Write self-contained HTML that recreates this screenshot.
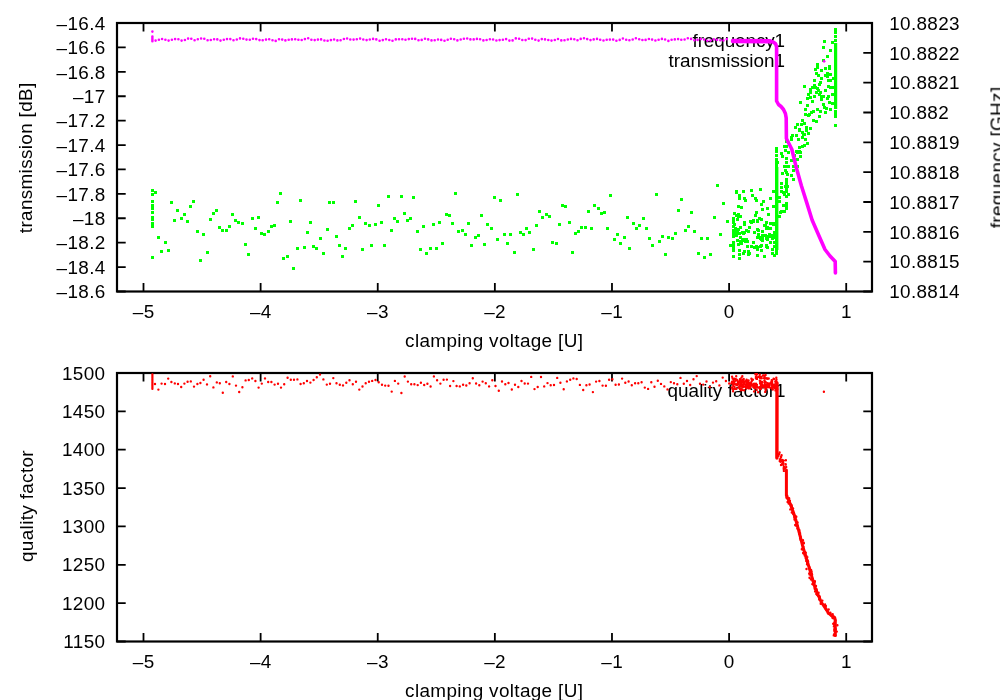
<!DOCTYPE html>
<html><head><meta charset="utf-8"><title>plot</title>
<style>
html,body{margin:0;padding:0;background:#fff;overflow:hidden}
svg{display:block}
text{font-family:"Liberation Sans",sans-serif;font-size:18.9px;letter-spacing:0.35px;fill:#000}
</style></head>
<body>
<svg width="1000" height="700" viewBox="0 0 1000 700">
<rect width="1000" height="700" fill="#fff"/>
<rect x="117" y="23" width="755" height="268.5" fill="none" stroke="#000" stroke-width="2.2"/><path d="M143.50 291.50v-8.6M143.50 23.00v8.6M260.62 291.50v-8.6M260.62 23.00v8.6M377.74 291.50v-8.6M377.74 23.00v8.6M494.86 291.50v-8.6M494.86 23.00v8.6M611.98 291.50v-8.6M611.98 23.00v8.6M729.10 291.50v-8.6M729.10 23.00v8.6M846.22 291.50v-8.6M846.22 23.00v8.6M117.00 23.00h8.7M117.00 47.41h8.7M117.00 71.82h8.7M117.00 96.23h8.7M117.00 120.64h8.7M117.00 145.05h8.7M117.00 169.45h8.7M117.00 193.86h8.7M117.00 218.27h8.7M117.00 242.68h8.7M117.00 267.09h8.7M117.00 291.50h8.7M872.00 23.00h-8.7M872.00 52.83h-8.7M872.00 82.67h-8.7M872.00 112.50h-8.7M872.00 142.33h-8.7M872.00 172.17h-8.7M872.00 202.00h-8.7M872.00 231.83h-8.7M872.00 261.67h-8.7M872.00 291.50h-8.7" stroke="#000" stroke-width="1.8" fill="none"/>
<rect x="117" y="373" width="755" height="268.5" fill="none" stroke="#000" stroke-width="2.2"/><path d="M143.50 641.50v-8.6M143.50 373.00v8.6M260.62 641.50v-8.6M260.62 373.00v8.6M377.74 641.50v-8.6M377.74 373.00v8.6M494.86 641.50v-8.6M494.86 373.00v8.6M611.98 641.50v-8.6M611.98 373.00v8.6M729.10 641.50v-8.6M729.10 373.00v8.6M846.22 641.50v-8.6M846.22 373.00v8.6M117.00 373.00h8.7M117.00 411.36h8.7M117.00 449.71h8.7M117.00 488.07h8.7M117.00 526.43h8.7M117.00 564.79h8.7M117.00 603.14h8.7M117.00 641.50h8.7M872.00 373.00h-8.7M872.00 411.36h-8.7M872.00 449.71h-8.7M872.00 488.07h-8.7M872.00 526.43h-8.7M872.00 564.79h-8.7M872.00 603.14h-8.7M872.00 641.50h-8.7" stroke="#000" stroke-width="1.8" fill="none"/>
<g style="filter:grayscale(1)">
<text x="105.6" y="29.7" text-anchor="end">–16.4</text><text x="105.6" y="54.1091" text-anchor="end">–16.6</text><text x="105.6" y="78.5182" text-anchor="end">–16.8</text><text x="105.6" y="102.927" text-anchor="end">–17</text><text x="105.6" y="127.336" text-anchor="end">–17.2</text><text x="105.6" y="151.745" text-anchor="end">–17.4</text><text x="105.6" y="176.155" text-anchor="end">–17.6</text><text x="105.6" y="200.564" text-anchor="end">–17.8</text><text x="105.6" y="224.973" text-anchor="end">–18</text><text x="105.6" y="249.382" text-anchor="end">–18.2</text><text x="105.6" y="273.791" text-anchor="end">–18.4</text><text x="105.6" y="298.2" text-anchor="end">–18.6</text><text x="889.2" y="29.7" text-anchor="start">10.8823</text><text x="889.2" y="59.5333" text-anchor="start">10.8822</text><text x="889.2" y="89.3667" text-anchor="start">10.8821</text><text x="889.2" y="119.2" text-anchor="start">10.882</text><text x="889.2" y="149.033" text-anchor="start">10.8819</text><text x="889.2" y="178.867" text-anchor="start">10.8818</text><text x="889.2" y="208.7" text-anchor="start">10.8817</text><text x="889.2" y="238.533" text-anchor="start">10.8816</text><text x="889.2" y="268.367" text-anchor="start">10.8815</text><text x="889.2" y="298.2" text-anchor="start">10.8814</text>
<text x="143.7" y="318.2" text-anchor="middle">–5</text><text x="260.82" y="318.2" text-anchor="middle">–4</text><text x="377.94" y="318.2" text-anchor="middle">–3</text><text x="495.06" y="318.2" text-anchor="middle">–2</text><text x="612.18" y="318.2" text-anchor="middle">–1</text><text x="729.3" y="318.2" text-anchor="middle">0</text><text x="846.42" y="318.2" text-anchor="middle">1</text><text x="494.2" y="346.7" text-anchor="middle">clamping voltage [U]</text><text x="143.7" y="668.2" text-anchor="middle">–5</text><text x="260.82" y="668.2" text-anchor="middle">–4</text><text x="377.94" y="668.2" text-anchor="middle">–3</text><text x="495.06" y="668.2" text-anchor="middle">–2</text><text x="612.18" y="668.2" text-anchor="middle">–1</text><text x="729.3" y="668.2" text-anchor="middle">0</text><text x="846.42" y="668.2" text-anchor="middle">1</text><text x="494.2" y="696.7" text-anchor="middle">clamping voltage [U]</text>
<text x="105.4" y="379.7" text-anchor="end">1500</text><text x="105.4" y="418.057" text-anchor="end">1450</text><text x="105.4" y="456.414" text-anchor="end">1400</text><text x="105.4" y="494.771" text-anchor="end">1350</text><text x="105.4" y="533.129" text-anchor="end">1300</text><text x="105.4" y="571.486" text-anchor="end">1250</text><text x="105.4" y="609.843" text-anchor="end">1200</text><text x="105.4" y="648.2" text-anchor="end">1150</text>
<text x="32.4" y="157.8" text-anchor="middle" transform="rotate(-90 32.4 157.8)">transmission [dB]</text><text x="1003.9" y="157.4" text-anchor="middle" transform="rotate(-90 1003.9 157.4)">frequency [GHz]</text><text x="32.8" y="506" text-anchor="middle" transform="rotate(-90 32.8 506)">quality factor</text><text x="785" y="47.4" text-anchor="end" style="letter-spacing:-0.1px">frequency1</text><text x="785" y="67.4" text-anchor="end" style="letter-spacing:0px">transmission1</text><text x="785.6" y="396.9" text-anchor="end" style="letter-spacing:0.03px">quality factor1</text>
</g>
<path d="M151 189h3v3h-3zM151 193h3v3h-3zM151 200h3v3h-3zM151 204h3v3h-3zM151 206h3v3h-3zM151 207h3v3h-3zM151 211h3v3h-3zM151 216h3v3h-3zM151 218h3v3h-3zM151 222h3v3h-3zM151 224h3v3h-3zM151 225h3v3h-3zM151 256h3v3h-3zM154 191h3v3h-3zM157 236h3v3h-3zM160 250h3v3h-3zM164 241h3v3h-3zM167 249h3v3h-3zM170 201h3v3h-3zM173 219h3v3h-3zM176 209h3v3h-3zM180 217h3v3h-3zM183 213h3v3h-3zM186 220h3v3h-3zM189 205h3v3h-3zM192 200h3v3h-3zM196 230h3v3h-3zM199 259h3v3h-3zM202 233h3v3h-3zM206 251h3v3h-3zM209 218h3v3h-3zM212 212h3v3h-3zM215 209h3v3h-3zM218 226h3v3h-3zM221 229h3v3h-3zM225 229h3v3h-3zM228 225h3v3h-3zM231 213h3v3h-3zM234 219h3v3h-3zM237 221h3v3h-3zM241 222h3v3h-3zM244 243h3v3h-3zM247 253h3v3h-3zM251 217h3v3h-3zM254 227h3v3h-3zM257 216h3v3h-3zM260 232h3v3h-3zM263 233h3v3h-3zM267 230h3v3h-3zM270 225h3v3h-3zM273 224h3v3h-3zM276 201h3v3h-3zM279 192h3v3h-3zM282 257h3v3h-3zM286 255h3v3h-3zM289 220h3v3h-3zM292 267h3v3h-3zM296 247h3v3h-3zM299 199h3v3h-3zM303 246h3v3h-3zM306 231h3v3h-3zM309 221h3v3h-3zM312 245h3v3h-3zM315 247h3v3h-3zM319 237h3v3h-3zM322 252h3v3h-3zM326 228h3v3h-3zM328 201h3v3h-3zM332 201h3v3h-3zM335 235h3v3h-3zM338 244h3v3h-3zM341 255h3v3h-3zM344 247h3v3h-3zM348 227h3v3h-3zM351 224h3v3h-3zM354 200h3v3h-3zM358 216h3v3h-3zM361 248h3v3h-3zM364 222h3v3h-3zM368 224h3v3h-3zM370 244h3v3h-3zM374 223h3v3h-3zM377 204h3v3h-3zM380 221h3v3h-3zM383 244h3v3h-3zM387 195h3v3h-3zM390 229h3v3h-3zM393 217h3v3h-3zM396 220h3v3h-3zM400 195h3v3h-3zM403 212h3v3h-3zM406 219h3v3h-3zM409 217h3v3h-3zM412 196h3v3h-3zM416 230h3v3h-3zM419 248h3v3h-3zM422 225h3v3h-3zM425 252h3v3h-3zM429 247h3v3h-3zM432 223h3v3h-3zM435 247h3v3h-3zM438 221h3v3h-3zM441 242h3v3h-3zM445 213h3v3h-3zM448 214h3v3h-3zM451 222h3v3h-3zM454 192h3v3h-3zM457 230h3v3h-3zM461 229h3v3h-3zM464 233h3v3h-3zM467 222h3v3h-3zM470 244h3v3h-3zM474 236h3v3h-3zM477 234h3v3h-3zM480 214h3v3h-3zM483 243h3v3h-3zM486 223h3v3h-3zM490 227h3v3h-3zM493 196h3v3h-3zM496 238h3v3h-3zM499 199h3v3h-3zM503 233h3v3h-3zM506 242h3v3h-3zM509 233h3v3h-3zM513 251h3v3h-3zM516 193h3v3h-3zM519 231h3v3h-3zM522 233h3v3h-3zM525 227h3v3h-3zM528 231h3v3h-3zM532 248h3v3h-3zM535 224h3v3h-3zM538 210h3v3h-3zM541 216h3v3h-3zM545 213h3v3h-3zM548 215h3v3h-3zM551 241h3v3h-3zM555 242h3v3h-3zM558 223h3v3h-3zM561 204h3v3h-3zM564 205h3v3h-3zM568 221h3v3h-3zM571 251h3v3h-3zM574 232h3v3h-3zM577 230h3v3h-3zM580 226h3v3h-3zM584 226h3v3h-3zM587 210h3v3h-3zM590 227h3v3h-3zM593 204h3v3h-3zM597 207h3v3h-3zM600 212h3v3h-3zM603 211h3v3h-3zM606 227h3v3h-3zM609 194h3v3h-3zM613 238h3v3h-3zM616 233h3v3h-3zM619 242h3v3h-3zM623 236h3v3h-3zM626 216h3v3h-3zM628 247h3v3h-3zM632 222h3v3h-3zM635 227h3v3h-3zM638 224h3v3h-3zM642 217h3v3h-3zM645 227h3v3h-3zM648 237h3v3h-3zM651 244h3v3h-3zM655 193h3v3h-3zM658 240h3v3h-3zM661 235h3v3h-3zM664 253h3v3h-3zM667 236h3v3h-3zM671 237h3v3h-3zM674 232h3v3h-3zM677 209h3v3h-3zM680 198h3v3h-3zM684 229h3v3h-3zM687 225h3v3h-3zM690 211h3v3h-3zM693 230h3v3h-3zM697 252h3v3h-3zM700 237h3v3h-3zM703 256h3v3h-3zM706 237h3v3h-3zM709 253h3v3h-3zM713 216h3v3h-3zM716 184h3v3h-3zM719 233h3v3h-3zM722 202h3v3h-3zM726 220h3v3h-3zM729 244h3v3h-3zM746 240h3v3h-3zM736 231h3v3h-3zM735 214h3v3h-3zM750 189h3v3h-3zM750 221h3v3h-3zM742 252h3v3h-3zM756 254h3v3h-3zM734 229h3v3h-3zM738 194h3v3h-3zM766 238h3v3h-3zM759 237h3v3h-3zM735 191h3v3h-3zM761 230h3v3h-3zM757 229h3v3h-3zM765 227h3v3h-3zM756 248h3v3h-3zM763 255h3v3h-3zM737 243h3v3h-3zM739 215h3v3h-3zM760 238h3v3h-3zM769 241h3v3h-3zM757 234h3v3h-3zM767 235h3v3h-3zM760 203h3v3h-3zM759 245h3v3h-3zM744 240h3v3h-3zM733 223h3v3h-3zM737 205h3v3h-3zM738 232h3v3h-3zM769 197h3v3h-3zM755 245h3v3h-3zM768 233h3v3h-3zM747 253h3v3h-3zM739 226h3v3h-3zM742 238h3v3h-3zM743 197h3v3h-3zM748 252h3v3h-3zM761 239h3v3h-3zM761 208h3v3h-3zM765 245h3v3h-3zM749 220h3v3h-3zM759 188h3v3h-3zM741 231h3v3h-3zM735 190h3v3h-3zM737 213h3v3h-3zM769 222h3v3h-3zM743 231h3v3h-3zM738 257h3v3h-3zM752 219h3v3h-3zM737 228h3v3h-3zM767 213h3v3h-3zM772 222h3v3h-3zM755 199h3v3h-3zM773 241h3v3h-3zM743 223h3v3h-3zM765 244h3v3h-3zM746 245h3v3h-3zM773 245h3v3h-3zM766 226h3v3h-3zM754 214h3v3h-3zM734 227h3v3h-3zM761 234h3v3h-3zM771 252h3v3h-3zM748 226h3v3h-3zM741 239h3v3h-3zM770 235h3v3h-3zM760 218h3v3h-3zM760 244h3v3h-3zM764 224h3v3h-3zM765 245h3v3h-3zM773 233h3v3h-3zM772 223h3v3h-3zM738 249h3v3h-3zM766 246h3v3h-3zM773 231h3v3h-3zM755 211h3v3h-3zM773 236h3v3h-3zM771 248h3v3h-3zM767 227h3v3h-3zM745 238h3v3h-3zM743 221h3v3h-3zM770 234h3v3h-3zM757 233h3v3h-3zM771 237h3v3h-3zM754 197h3v3h-3zM740 206h3v3h-3zM740 242h3v3h-3zM756 236h3v3h-3zM756 220h3v3h-3zM756 228h3v3h-3zM765 237h3v3h-3zM764 234h3v3h-3zM758 236h3v3h-3zM761 237h3v3h-3zM752 241h3v3h-3zM769 227h3v3h-3zM756 246h3v3h-3zM738 197h3v3h-3zM736 218h3v3h-3zM760 249h3v3h-3zM739 240h3v3h-3zM738 253h3v3h-3zM742 232h3v3h-3zM753 246h3v3h-3zM739 236h3v3h-3zM747 230h3v3h-3zM762 200h3v3h-3zM751 194h3v3h-3zM758 217h3v3h-3zM773 254h3v3h-3zM737 215h3v3h-3zM765 221h3v3h-3zM750 245h3v3h-3zM743 250h3v3h-3zM756 219h3v3h-3zM735 233h3v3h-3zM736 239h3v3h-3zM766 207h3v3h-3zM735 234h3v3h-3zM747 250h3v3h-3zM744 199h3v3h-3zM742 190h3v3h-3zM735 230h3v3h-3zM745 229h3v3h-3zM753 231h3v3h-3zM733 212h3v3h-3zM763 224h3v3h-3zM752 220h3v3h-3zM732 248h3v3h-3zM732 232h3v3h-3zM732 235h3v3h-3zM732 249h3v3h-3zM732 231h3v3h-3zM732 235h3v3h-3zM732 243h3v3h-3zM732 255h3v3h-3zM732 229h3v3h-3zM732 249h3v3h-3zM732 243h3v3h-3zM732 241h3v3h-3zM732 231h3v3h-3zM732 229h3v3h-3zM732 217h3v3h-3zM732 220h3v3h-3zM732 217h3v3h-3zM732 245h3v3h-3zM732 225h3v3h-3zM732 221h3v3h-3zM732 218h3v3h-3zM732 249h3v3h-3zM775 147h3v3h-3zM775 150h3v3h-3zM775 154h3v3h-3zM775 158h3v3h-3zM775 161h3v3h-3zM775 164h3v3h-3zM775 250h3v3h-3zM775 252h3v3h-3zM822 46h3v3h-3zM829 49h3v3h-3zM831 41h3v3h-3zM826 55h3v3h-3zM822 59h3v3h-3zM816 63h3v3h-3zM816 66h3v3h-3zM814 68h3v3h-3zM820 69h3v3h-3zM824 67h3v3h-3zM828 65h3v3h-3zM828 67h3v3h-3zM815 72h3v3h-3zM817 74h3v3h-3zM826 72h3v3h-3zM829 73h3v3h-3zM824 74h3v3h-3zM826 75h3v3h-3zM820 77h3v3h-3zM832 77h3v3h-3zM813 79h3v3h-3zM819 81h3v3h-3zM818 83h3v3h-3zM827 79h3v3h-3zM829 79h3v3h-3zM803 85h3v3h-3zM813 84h3v3h-3zM811 86h3v3h-3zM814 86h3v3h-3zM816 87h3v3h-3zM827 85h3v3h-3zM829 86h3v3h-3zM831 86h3v3h-3zM809 88h3v3h-3zM817 89h3v3h-3zM824 89h3v3h-3zM809 91h3v3h-3zM815 91h3v3h-3zM819 91h3v3h-3zM818 93h3v3h-3zM807 93h3v3h-3zM831 93h3v3h-3zM813 95h3v3h-3zM820 95h3v3h-3zM822 95h3v3h-3zM827 95h3v3h-3zM809 96h3v3h-3zM806 97h3v3h-3zM826 97h3v3h-3zM820 98h3v3h-3zM811 100h3v3h-3zM799 101h3v3h-3zM828 101h3v3h-3zM831 102h3v3h-3zM822 103h3v3h-3zM806 104h3v3h-3zM823 106h3v3h-3zM825 107h3v3h-3zM816 108h3v3h-3zM829 108h3v3h-3zM804 108h3v3h-3zM812 110h3v3h-3zM819 110h3v3h-3zM824 111h3v3h-3zM810 111h3v3h-3zM808 113h3v3h-3zM804 113h3v3h-3zM807 114h3v3h-3zM818 115h3v3h-3zM801 119h3v3h-3zM812 119h3v3h-3zM815 120h3v3h-3zM803 122h3v3h-3zM800 123h3v3h-3zM796 123h3v3h-3zM805 126h3v3h-3zM809 127h3v3h-3zM798 128h3v3h-3zM805 129h3v3h-3zM794 126h3v3h-3zM801 131h3v3h-3zM807 132h3v3h-3zM802 133h3v3h-3zM798 129h3v3h-3zM805 129h3v3h-3zM801 131h3v3h-3zM807 132h3v3h-3zM803 133h3v3h-3zM795 134h3v3h-3zM791 134h3v3h-3zM790 136h3v3h-3zM801 136h3v3h-3zM804 138h3v3h-3zM797 138h3v3h-3zM790 138h3v3h-3zM785 140h3v3h-3zM806 142h3v3h-3zM803 144h3v3h-3zM801 145h3v3h-3zM798 146h3v3h-3zM783 145h3v3h-3zM785 145h3v3h-3zM784 149h3v3h-3zM795 150h3v3h-3zM798 150h3v3h-3zM787 151h3v3h-3zM796 151h3v3h-3zM799 151h3v3h-3zM780 152h3v3h-3zM781 155h3v3h-3zM799 155h3v3h-3zM785 157h3v3h-3zM793 154h3v3h-3zM796 158h3v3h-3zM790 159h3v3h-3zM776 161h3v3h-3zM785 161h3v3h-3zM783 165h3v3h-3zM785 165h3v3h-3zM787 165h3v3h-3zM792 165h3v3h-3zM796 165h3v3h-3zM784 169h3v3h-3zM792 169h3v3h-3zM785 171h3v3h-3zM781 172h3v3h-3zM786 173h3v3h-3zM790 174h3v3h-3zM792 178h3v3h-3zM785 178h3v3h-3zM785 182h3v3h-3zM780 182h3v3h-3zM785 179h3v3h-3zM792 178h3v3h-3zM780 182h3v3h-3zM785 182h3v3h-3zM786 185h3v3h-3zM780 186h3v3h-3zM784 185h3v3h-3zM785 187h3v3h-3zM780 190h3v3h-3zM782 191h3v3h-3zM785 190h3v3h-3zM787 193h3v3h-3zM783 193h3v3h-3zM785 195h3v3h-3zM778 196h3v3h-3zM778 200h3v3h-3zM785 202h3v3h-3zM782 204h3v3h-3zM785 204h3v3h-3zM785 207h3v3h-3zM780 210h3v3h-3zM783 210h3v3h-3zM779 211h3v3h-3zM778 215h3v3h-3zM772 190h3v3h-3zM769 197h3v3h-3zM772 205h3v3h-3zM834 28h3v3h-3zM834 31h3v3h-3zM834 35h3v3h-3zM834 39h3v3h-3zM834 110h3v3h-3zM834 112h3v3h-3zM834 115h3v3h-3zM834 124h3v3h-3zM823 40h3v3h-3z" fill="#00ff00"/>
<rect x="775" y="167" width="3.4" height="83" fill="#00ff00"/>
<rect x="834" y="43" width="3.2" height="66" fill="#00ff00"/>
<path d="M151.1 39.9a1.3 1.3 0 1 0 2.6 0a1.3 1.3 0 1 0 -2.6 0zM154.3 40.6a1.3 1.3 0 1 0 2.6 0a1.3 1.3 0 1 0 -2.6 0zM157.6 39.7a1.3 1.3 0 1 0 2.6 0a1.3 1.3 0 1 0 -2.6 0zM160.8 39.0a1.3 1.3 0 1 0 2.6 0a1.3 1.3 0 1 0 -2.6 0zM164.1 39.8a1.3 1.3 0 1 0 2.6 0a1.3 1.3 0 1 0 -2.6 0zM167.3 40.6a1.3 1.3 0 1 0 2.6 0a1.3 1.3 0 1 0 -2.6 0zM170.6 39.7a1.3 1.3 0 1 0 2.6 0a1.3 1.3 0 1 0 -2.6 0zM173.8 39.1a1.3 1.3 0 1 0 2.6 0a1.3 1.3 0 1 0 -2.6 0zM177.1 39.3a1.3 1.3 0 1 0 2.6 0a1.3 1.3 0 1 0 -2.6 0zM180.3 40.6a1.3 1.3 0 1 0 2.6 0a1.3 1.3 0 1 0 -2.6 0zM183.6 40.0a1.3 1.3 0 1 0 2.6 0a1.3 1.3 0 1 0 -2.6 0zM186.8 38.6a1.3 1.3 0 1 0 2.6 0a1.3 1.3 0 1 0 -2.6 0zM190.0 38.8a1.3 1.3 0 1 0 2.6 0a1.3 1.3 0 1 0 -2.6 0zM193.3 40.3a1.3 1.3 0 1 0 2.6 0a1.3 1.3 0 1 0 -2.6 0zM196.5 39.3a1.3 1.3 0 1 0 2.6 0a1.3 1.3 0 1 0 -2.6 0zM199.8 38.5a1.3 1.3 0 1 0 2.6 0a1.3 1.3 0 1 0 -2.6 0zM203.0 38.8a1.3 1.3 0 1 0 2.6 0a1.3 1.3 0 1 0 -2.6 0zM206.3 40.2a1.3 1.3 0 1 0 2.6 0a1.3 1.3 0 1 0 -2.6 0zM209.5 40.0a1.3 1.3 0 1 0 2.6 0a1.3 1.3 0 1 0 -2.6 0zM212.8 39.2a1.3 1.3 0 1 0 2.6 0a1.3 1.3 0 1 0 -2.6 0zM216.0 39.4a1.3 1.3 0 1 0 2.6 0a1.3 1.3 0 1 0 -2.6 0zM219.2 40.6a1.3 1.3 0 1 0 2.6 0a1.3 1.3 0 1 0 -2.6 0zM222.5 39.8a1.3 1.3 0 1 0 2.6 0a1.3 1.3 0 1 0 -2.6 0zM225.7 39.1a1.3 1.3 0 1 0 2.6 0a1.3 1.3 0 1 0 -2.6 0zM229.0 39.1a1.3 1.3 0 1 0 2.6 0a1.3 1.3 0 1 0 -2.6 0zM232.2 40.2a1.3 1.3 0 1 0 2.6 0a1.3 1.3 0 1 0 -2.6 0zM235.5 39.5a1.3 1.3 0 1 0 2.6 0a1.3 1.3 0 1 0 -2.6 0zM238.7 38.4a1.3 1.3 0 1 0 2.6 0a1.3 1.3 0 1 0 -2.6 0zM242.0 38.7a1.3 1.3 0 1 0 2.6 0a1.3 1.3 0 1 0 -2.6 0zM245.2 39.6a1.3 1.3 0 1 0 2.6 0a1.3 1.3 0 1 0 -2.6 0zM248.5 39.7a1.3 1.3 0 1 0 2.6 0a1.3 1.3 0 1 0 -2.6 0zM251.7 38.7a1.3 1.3 0 1 0 2.6 0a1.3 1.3 0 1 0 -2.6 0zM254.9 39.1a1.3 1.3 0 1 0 2.6 0a1.3 1.3 0 1 0 -2.6 0zM258.2 40.1a1.3 1.3 0 1 0 2.6 0a1.3 1.3 0 1 0 -2.6 0zM261.4 40.3a1.3 1.3 0 1 0 2.6 0a1.3 1.3 0 1 0 -2.6 0zM264.7 39.6a1.3 1.3 0 1 0 2.6 0a1.3 1.3 0 1 0 -2.6 0zM267.9 39.3a1.3 1.3 0 1 0 2.6 0a1.3 1.3 0 1 0 -2.6 0zM271.2 40.3a1.3 1.3 0 1 0 2.6 0a1.3 1.3 0 1 0 -2.6 0zM274.4 40.9a1.3 1.3 0 1 0 2.6 0a1.3 1.3 0 1 0 -2.6 0zM277.7 39.2a1.3 1.3 0 1 0 2.6 0a1.3 1.3 0 1 0 -2.6 0zM280.9 39.6a1.3 1.3 0 1 0 2.6 0a1.3 1.3 0 1 0 -2.6 0zM284.1 40.4a1.3 1.3 0 1 0 2.6 0a1.3 1.3 0 1 0 -2.6 0zM287.4 39.8a1.3 1.3 0 1 0 2.6 0a1.3 1.3 0 1 0 -2.6 0zM290.6 39.4a1.3 1.3 0 1 0 2.6 0a1.3 1.3 0 1 0 -2.6 0zM293.9 39.2a1.3 1.3 0 1 0 2.6 0a1.3 1.3 0 1 0 -2.6 0zM297.1 39.8a1.3 1.3 0 1 0 2.6 0a1.3 1.3 0 1 0 -2.6 0zM300.4 40.0a1.3 1.3 0 1 0 2.6 0a1.3 1.3 0 1 0 -2.6 0zM303.6 39.1a1.3 1.3 0 1 0 2.6 0a1.3 1.3 0 1 0 -2.6 0zM306.9 38.3a1.3 1.3 0 1 0 2.6 0a1.3 1.3 0 1 0 -2.6 0zM310.1 39.7a1.3 1.3 0 1 0 2.6 0a1.3 1.3 0 1 0 -2.6 0zM313.4 40.1a1.3 1.3 0 1 0 2.6 0a1.3 1.3 0 1 0 -2.6 0zM316.6 39.6a1.3 1.3 0 1 0 2.6 0a1.3 1.3 0 1 0 -2.6 0zM319.8 39.4a1.3 1.3 0 1 0 2.6 0a1.3 1.3 0 1 0 -2.6 0zM323.1 40.5a1.3 1.3 0 1 0 2.6 0a1.3 1.3 0 1 0 -2.6 0zM326.3 40.7a1.3 1.3 0 1 0 2.6 0a1.3 1.3 0 1 0 -2.6 0zM329.6 40.1a1.3 1.3 0 1 0 2.6 0a1.3 1.3 0 1 0 -2.6 0zM332.8 39.5a1.3 1.3 0 1 0 2.6 0a1.3 1.3 0 1 0 -2.6 0zM336.1 40.4a1.3 1.3 0 1 0 2.6 0a1.3 1.3 0 1 0 -2.6 0zM339.3 40.2a1.3 1.3 0 1 0 2.6 0a1.3 1.3 0 1 0 -2.6 0zM342.6 39.0a1.3 1.3 0 1 0 2.6 0a1.3 1.3 0 1 0 -2.6 0zM345.8 38.5a1.3 1.3 0 1 0 2.6 0a1.3 1.3 0 1 0 -2.6 0zM349.0 39.5a1.3 1.3 0 1 0 2.6 0a1.3 1.3 0 1 0 -2.6 0zM352.3 39.6a1.3 1.3 0 1 0 2.6 0a1.3 1.3 0 1 0 -2.6 0zM355.5 39.3a1.3 1.3 0 1 0 2.6 0a1.3 1.3 0 1 0 -2.6 0zM358.8 38.6a1.3 1.3 0 1 0 2.6 0a1.3 1.3 0 1 0 -2.6 0zM362.0 39.5a1.3 1.3 0 1 0 2.6 0a1.3 1.3 0 1 0 -2.6 0zM365.3 40.1a1.3 1.3 0 1 0 2.6 0a1.3 1.3 0 1 0 -2.6 0zM368.5 39.5a1.3 1.3 0 1 0 2.6 0a1.3 1.3 0 1 0 -2.6 0zM371.8 38.9a1.3 1.3 0 1 0 2.6 0a1.3 1.3 0 1 0 -2.6 0zM375.0 39.4a1.3 1.3 0 1 0 2.6 0a1.3 1.3 0 1 0 -2.6 0zM378.3 40.8a1.3 1.3 0 1 0 2.6 0a1.3 1.3 0 1 0 -2.6 0zM381.5 40.1a1.3 1.3 0 1 0 2.6 0a1.3 1.3 0 1 0 -2.6 0zM384.7 39.3a1.3 1.3 0 1 0 2.6 0a1.3 1.3 0 1 0 -2.6 0zM388.0 40.0a1.3 1.3 0 1 0 2.6 0a1.3 1.3 0 1 0 -2.6 0zM391.2 40.8a1.3 1.3 0 1 0 2.6 0a1.3 1.3 0 1 0 -2.6 0zM394.5 39.4a1.3 1.3 0 1 0 2.6 0a1.3 1.3 0 1 0 -2.6 0zM397.7 39.2a1.3 1.3 0 1 0 2.6 0a1.3 1.3 0 1 0 -2.6 0zM401.0 39.3a1.3 1.3 0 1 0 2.6 0a1.3 1.3 0 1 0 -2.6 0zM404.2 39.7a1.3 1.3 0 1 0 2.6 0a1.3 1.3 0 1 0 -2.6 0zM407.5 39.1a1.3 1.3 0 1 0 2.6 0a1.3 1.3 0 1 0 -2.6 0zM410.7 38.7a1.3 1.3 0 1 0 2.6 0a1.3 1.3 0 1 0 -2.6 0zM413.9 38.9a1.3 1.3 0 1 0 2.6 0a1.3 1.3 0 1 0 -2.6 0zM417.2 40.2a1.3 1.3 0 1 0 2.6 0a1.3 1.3 0 1 0 -2.6 0zM420.4 39.9a1.3 1.3 0 1 0 2.6 0a1.3 1.3 0 1 0 -2.6 0zM423.7 38.8a1.3 1.3 0 1 0 2.6 0a1.3 1.3 0 1 0 -2.6 0zM426.9 39.4a1.3 1.3 0 1 0 2.6 0a1.3 1.3 0 1 0 -2.6 0zM430.2 40.4a1.3 1.3 0 1 0 2.6 0a1.3 1.3 0 1 0 -2.6 0zM433.4 40.2a1.3 1.3 0 1 0 2.6 0a1.3 1.3 0 1 0 -2.6 0zM436.7 39.5a1.3 1.3 0 1 0 2.6 0a1.3 1.3 0 1 0 -2.6 0zM439.9 39.9a1.3 1.3 0 1 0 2.6 0a1.3 1.3 0 1 0 -2.6 0zM443.2 40.8a1.3 1.3 0 1 0 2.6 0a1.3 1.3 0 1 0 -2.6 0zM446.4 39.8a1.3 1.3 0 1 0 2.6 0a1.3 1.3 0 1 0 -2.6 0zM449.6 38.8a1.3 1.3 0 1 0 2.6 0a1.3 1.3 0 1 0 -2.6 0zM452.9 39.2a1.3 1.3 0 1 0 2.6 0a1.3 1.3 0 1 0 -2.6 0zM456.1 40.4a1.3 1.3 0 1 0 2.6 0a1.3 1.3 0 1 0 -2.6 0zM459.4 39.5a1.3 1.3 0 1 0 2.6 0a1.3 1.3 0 1 0 -2.6 0zM462.6 38.7a1.3 1.3 0 1 0 2.6 0a1.3 1.3 0 1 0 -2.6 0zM465.9 38.5a1.3 1.3 0 1 0 2.6 0a1.3 1.3 0 1 0 -2.6 0zM469.1 39.4a1.3 1.3 0 1 0 2.6 0a1.3 1.3 0 1 0 -2.6 0zM472.4 39.4a1.3 1.3 0 1 0 2.6 0a1.3 1.3 0 1 0 -2.6 0zM475.6 38.9a1.3 1.3 0 1 0 2.6 0a1.3 1.3 0 1 0 -2.6 0zM478.8 39.3a1.3 1.3 0 1 0 2.6 0a1.3 1.3 0 1 0 -2.6 0zM482.1 40.4a1.3 1.3 0 1 0 2.6 0a1.3 1.3 0 1 0 -2.6 0zM485.3 40.0a1.3 1.3 0 1 0 2.6 0a1.3 1.3 0 1 0 -2.6 0zM488.6 39.3a1.3 1.3 0 1 0 2.6 0a1.3 1.3 0 1 0 -2.6 0zM491.8 39.5a1.3 1.3 0 1 0 2.6 0a1.3 1.3 0 1 0 -2.6 0zM495.1 40.5a1.3 1.3 0 1 0 2.6 0a1.3 1.3 0 1 0 -2.6 0zM498.3 40.1a1.3 1.3 0 1 0 2.6 0a1.3 1.3 0 1 0 -2.6 0zM501.6 39.7a1.3 1.3 0 1 0 2.6 0a1.3 1.3 0 1 0 -2.6 0zM504.8 39.1a1.3 1.3 0 1 0 2.6 0a1.3 1.3 0 1 0 -2.6 0zM508.1 40.6a1.3 1.3 0 1 0 2.6 0a1.3 1.3 0 1 0 -2.6 0zM511.3 40.4a1.3 1.3 0 1 0 2.6 0a1.3 1.3 0 1 0 -2.6 0zM514.5 38.4a1.3 1.3 0 1 0 2.6 0a1.3 1.3 0 1 0 -2.6 0zM517.8 38.7a1.3 1.3 0 1 0 2.6 0a1.3 1.3 0 1 0 -2.6 0zM521.0 40.0a1.3 1.3 0 1 0 2.6 0a1.3 1.3 0 1 0 -2.6 0zM524.3 40.1a1.3 1.3 0 1 0 2.6 0a1.3 1.3 0 1 0 -2.6 0zM527.5 38.7a1.3 1.3 0 1 0 2.6 0a1.3 1.3 0 1 0 -2.6 0zM530.8 38.6a1.3 1.3 0 1 0 2.6 0a1.3 1.3 0 1 0 -2.6 0zM534.0 39.7a1.3 1.3 0 1 0 2.6 0a1.3 1.3 0 1 0 -2.6 0zM537.3 40.6a1.3 1.3 0 1 0 2.6 0a1.3 1.3 0 1 0 -2.6 0zM540.5 39.1a1.3 1.3 0 1 0 2.6 0a1.3 1.3 0 1 0 -2.6 0zM543.7 39.4a1.3 1.3 0 1 0 2.6 0a1.3 1.3 0 1 0 -2.6 0zM547.0 40.0a1.3 1.3 0 1 0 2.6 0a1.3 1.3 0 1 0 -2.6 0zM550.2 40.6a1.3 1.3 0 1 0 2.6 0a1.3 1.3 0 1 0 -2.6 0zM553.5 40.0a1.3 1.3 0 1 0 2.6 0a1.3 1.3 0 1 0 -2.6 0zM556.7 39.0a1.3 1.3 0 1 0 2.6 0a1.3 1.3 0 1 0 -2.6 0zM560.0 40.4a1.3 1.3 0 1 0 2.6 0a1.3 1.3 0 1 0 -2.6 0zM563.2 40.3a1.3 1.3 0 1 0 2.6 0a1.3 1.3 0 1 0 -2.6 0zM566.5 39.5a1.3 1.3 0 1 0 2.6 0a1.3 1.3 0 1 0 -2.6 0zM569.7 38.9a1.3 1.3 0 1 0 2.6 0a1.3 1.3 0 1 0 -2.6 0zM573.0 39.3a1.3 1.3 0 1 0 2.6 0a1.3 1.3 0 1 0 -2.6 0zM576.2 40.2a1.3 1.3 0 1 0 2.6 0a1.3 1.3 0 1 0 -2.6 0zM579.4 38.9a1.3 1.3 0 1 0 2.6 0a1.3 1.3 0 1 0 -2.6 0zM582.7 38.2a1.3 1.3 0 1 0 2.6 0a1.3 1.3 0 1 0 -2.6 0zM585.9 39.1a1.3 1.3 0 1 0 2.6 0a1.3 1.3 0 1 0 -2.6 0zM589.2 40.1a1.3 1.3 0 1 0 2.6 0a1.3 1.3 0 1 0 -2.6 0zM592.4 39.4a1.3 1.3 0 1 0 2.6 0a1.3 1.3 0 1 0 -2.6 0zM595.7 38.9a1.3 1.3 0 1 0 2.6 0a1.3 1.3 0 1 0 -2.6 0zM598.9 39.7a1.3 1.3 0 1 0 2.6 0a1.3 1.3 0 1 0 -2.6 0zM602.2 40.5a1.3 1.3 0 1 0 2.6 0a1.3 1.3 0 1 0 -2.6 0zM605.4 39.7a1.3 1.3 0 1 0 2.6 0a1.3 1.3 0 1 0 -2.6 0zM608.6 39.6a1.3 1.3 0 1 0 2.6 0a1.3 1.3 0 1 0 -2.6 0zM611.9 39.6a1.3 1.3 0 1 0 2.6 0a1.3 1.3 0 1 0 -2.6 0zM615.1 40.7a1.3 1.3 0 1 0 2.6 0a1.3 1.3 0 1 0 -2.6 0zM618.4 39.9a1.3 1.3 0 1 0 2.6 0a1.3 1.3 0 1 0 -2.6 0zM621.6 38.5a1.3 1.3 0 1 0 2.6 0a1.3 1.3 0 1 0 -2.6 0zM624.9 39.8a1.3 1.3 0 1 0 2.6 0a1.3 1.3 0 1 0 -2.6 0zM628.1 40.2a1.3 1.3 0 1 0 2.6 0a1.3 1.3 0 1 0 -2.6 0zM631.4 39.5a1.3 1.3 0 1 0 2.6 0a1.3 1.3 0 1 0 -2.6 0zM634.6 38.3a1.3 1.3 0 1 0 2.6 0a1.3 1.3 0 1 0 -2.6 0zM637.9 39.2a1.3 1.3 0 1 0 2.6 0a1.3 1.3 0 1 0 -2.6 0zM641.1 40.0a1.3 1.3 0 1 0 2.6 0a1.3 1.3 0 1 0 -2.6 0zM644.3 39.9a1.3 1.3 0 1 0 2.6 0a1.3 1.3 0 1 0 -2.6 0zM647.6 39.0a1.3 1.3 0 1 0 2.6 0a1.3 1.3 0 1 0 -2.6 0zM650.8 39.6a1.3 1.3 0 1 0 2.6 0a1.3 1.3 0 1 0 -2.6 0zM654.1 40.5a1.3 1.3 0 1 0 2.6 0a1.3 1.3 0 1 0 -2.6 0zM657.3 39.8a1.3 1.3 0 1 0 2.6 0a1.3 1.3 0 1 0 -2.6 0zM660.6 38.9a1.3 1.3 0 1 0 2.6 0a1.3 1.3 0 1 0 -2.6 0zM663.8 39.5a1.3 1.3 0 1 0 2.6 0a1.3 1.3 0 1 0 -2.6 0zM667.1 40.9a1.3 1.3 0 1 0 2.6 0a1.3 1.3 0 1 0 -2.6 0zM670.3 39.7a1.3 1.3 0 1 0 2.6 0a1.3 1.3 0 1 0 -2.6 0zM673.5 39.4a1.3 1.3 0 1 0 2.6 0a1.3 1.3 0 1 0 -2.6 0zM676.8 39.1a1.3 1.3 0 1 0 2.6 0a1.3 1.3 0 1 0 -2.6 0zM680.0 39.8a1.3 1.3 0 1 0 2.6 0a1.3 1.3 0 1 0 -2.6 0zM683.3 39.5a1.3 1.3 0 1 0 2.6 0a1.3 1.3 0 1 0 -2.6 0zM686.5 38.3a1.3 1.3 0 1 0 2.6 0a1.3 1.3 0 1 0 -2.6 0zM689.8 38.9a1.3 1.3 0 1 0 2.6 0a1.3 1.3 0 1 0 -2.6 0zM693.0 40.3a1.3 1.3 0 1 0 2.6 0a1.3 1.3 0 1 0 -2.6 0zM696.3 39.9a1.3 1.3 0 1 0 2.6 0a1.3 1.3 0 1 0 -2.6 0zM699.5 39.1a1.3 1.3 0 1 0 2.6 0a1.3 1.3 0 1 0 -2.6 0zM702.8 39.5a1.3 1.3 0 1 0 2.6 0a1.3 1.3 0 1 0 -2.6 0zM706.0 40.8a1.3 1.3 0 1 0 2.6 0a1.3 1.3 0 1 0 -2.6 0zM709.2 40.6a1.3 1.3 0 1 0 2.6 0a1.3 1.3 0 1 0 -2.6 0zM712.5 39.4a1.3 1.3 0 1 0 2.6 0a1.3 1.3 0 1 0 -2.6 0zM715.7 39.9a1.3 1.3 0 1 0 2.6 0a1.3 1.3 0 1 0 -2.6 0zM719.0 40.2a1.3 1.3 0 1 0 2.6 0a1.3 1.3 0 1 0 -2.6 0zM722.2 40.5a1.3 1.3 0 1 0 2.6 0a1.3 1.3 0 1 0 -2.6 0zM725.5 39.1a1.3 1.3 0 1 0 2.6 0a1.3 1.3 0 1 0 -2.6 0zM151.1 31.6a1.3 1.3 0 1 0 2.6 0a1.3 1.3 0 1 0 -2.6 0zM151.1 36.5a1.3 1.3 0 1 0 2.6 0a1.3 1.3 0 1 0 -2.6 0zM151.1 37.5a1.3 1.3 0 1 0 2.6 0a1.3 1.3 0 1 0 -2.6 0zM151.1 38.5a1.3 1.3 0 1 0 2.6 0a1.3 1.3 0 1 0 -2.6 0zM151.1 39.5a1.3 1.3 0 1 0 2.6 0a1.3 1.3 0 1 0 -2.6 0zM151.1 40.5a1.3 1.3 0 1 0 2.6 0a1.3 1.3 0 1 0 -2.6 0zM151.1 41.2a1.3 1.3 0 1 0 2.6 0a1.3 1.3 0 1 0 -2.6 0z" fill="#ff00ff"/>
<polyline points="733.0,41.0 769.0,41.2 773.0,42.0 775.6,43.8 776.6,47.0 776.6,101.0 778.5,104.5 781.0,106.5 783.5,109.5 785.4,113.5 786.2,118.0 786.4,138.5 791.8,149.3 796.0,166.4 801.4,185.7 806.8,202.9 812.1,220.0 818.6,235.0 825.0,249.5 830.0,256.0 835.2,261.5 835.4,273.0" fill="none" stroke="#ff00ff" stroke-width="3.6" stroke-linejoin="round" stroke-linecap="round"/>
<polyline points="733,41.0 770,41.3" fill="none" stroke="#ff00ff" stroke-width="4.6" stroke-linecap="round"/>
<circle cx="824.1" cy="61.3" r="1.4" fill="#ff00ff"/>
<path d="M153.8 384.0a1.2 1.2 0 1 0 2.4 0a1.2 1.2 0 1 0 -2.4 0zM157.2 389.6a1.2 1.2 0 1 0 2.4 0a1.2 1.2 0 1 0 -2.4 0zM160.4 383.6a1.2 1.2 0 1 0 2.4 0a1.2 1.2 0 1 0 -2.4 0zM163.8 384.0a1.2 1.2 0 1 0 2.4 0a1.2 1.2 0 1 0 -2.4 0zM167.0 378.6a1.2 1.2 0 1 0 2.4 0a1.2 1.2 0 1 0 -2.4 0zM170.2 382.0a1.2 1.2 0 1 0 2.4 0a1.2 1.2 0 1 0 -2.4 0zM173.6 383.4a1.2 1.2 0 1 0 2.4 0a1.2 1.2 0 1 0 -2.4 0zM176.8 384.0a1.2 1.2 0 1 0 2.4 0a1.2 1.2 0 1 0 -2.4 0zM180.0 387.0a1.2 1.2 0 1 0 2.4 0a1.2 1.2 0 1 0 -2.4 0zM183.2 383.6a1.2 1.2 0 1 0 2.4 0a1.2 1.2 0 1 0 -2.4 0zM186.4 381.8a1.2 1.2 0 1 0 2.4 0a1.2 1.2 0 1 0 -2.4 0zM189.6 381.4a1.2 1.2 0 1 0 2.4 0a1.2 1.2 0 1 0 -2.4 0zM192.8 386.6a1.2 1.2 0 1 0 2.4 0a1.2 1.2 0 1 0 -2.4 0zM196.2 384.0a1.2 1.2 0 1 0 2.4 0a1.2 1.2 0 1 0 -2.4 0zM199.2 383.0a1.2 1.2 0 1 0 2.4 0a1.2 1.2 0 1 0 -2.4 0zM202.4 379.8a1.2 1.2 0 1 0 2.4 0a1.2 1.2 0 1 0 -2.4 0zM205.8 384.4a1.2 1.2 0 1 0 2.4 0a1.2 1.2 0 1 0 -2.4 0zM209.0 376.2a1.2 1.2 0 1 0 2.4 0a1.2 1.2 0 1 0 -2.4 0zM212.2 387.4a1.2 1.2 0 1 0 2.4 0a1.2 1.2 0 1 0 -2.4 0zM215.6 382.4a1.2 1.2 0 1 0 2.4 0a1.2 1.2 0 1 0 -2.4 0zM218.6 383.2a1.2 1.2 0 1 0 2.4 0a1.2 1.2 0 1 0 -2.4 0zM221.6 392.8a1.2 1.2 0 1 0 2.4 0a1.2 1.2 0 1 0 -2.4 0zM225.0 382.0a1.2 1.2 0 1 0 2.4 0a1.2 1.2 0 1 0 -2.4 0zM228.2 384.0a1.2 1.2 0 1 0 2.4 0a1.2 1.2 0 1 0 -2.4 0zM231.6 376.4a1.2 1.2 0 1 0 2.4 0a1.2 1.2 0 1 0 -2.4 0zM234.8 385.6a1.2 1.2 0 1 0 2.4 0a1.2 1.2 0 1 0 -2.4 0zM238.0 392.0a1.2 1.2 0 1 0 2.4 0a1.2 1.2 0 1 0 -2.4 0zM241.2 387.2a1.2 1.2 0 1 0 2.4 0a1.2 1.2 0 1 0 -2.4 0zM244.4 380.4a1.2 1.2 0 1 0 2.4 0a1.2 1.2 0 1 0 -2.4 0zM247.6 380.0a1.2 1.2 0 1 0 2.4 0a1.2 1.2 0 1 0 -2.4 0zM251.0 378.4a1.2 1.2 0 1 0 2.4 0a1.2 1.2 0 1 0 -2.4 0zM254.2 381.0a1.2 1.2 0 1 0 2.4 0a1.2 1.2 0 1 0 -2.4 0zM257.4 387.6a1.2 1.2 0 1 0 2.4 0a1.2 1.2 0 1 0 -2.4 0zM260.6 383.6a1.2 1.2 0 1 0 2.4 0a1.2 1.2 0 1 0 -2.4 0zM263.8 378.4a1.2 1.2 0 1 0 2.4 0a1.2 1.2 0 1 0 -2.4 0zM267.0 382.0a1.2 1.2 0 1 0 2.4 0a1.2 1.2 0 1 0 -2.4 0zM270.2 382.0a1.2 1.2 0 1 0 2.4 0a1.2 1.2 0 1 0 -2.4 0zM273.4 384.6a1.2 1.2 0 1 0 2.4 0a1.2 1.2 0 1 0 -2.4 0zM276.8 383.8a1.2 1.2 0 1 0 2.4 0a1.2 1.2 0 1 0 -2.4 0zM279.8 387.6a1.2 1.2 0 1 0 2.4 0a1.2 1.2 0 1 0 -2.4 0zM283.0 384.2a1.2 1.2 0 1 0 2.4 0a1.2 1.2 0 1 0 -2.4 0zM286.4 377.8a1.2 1.2 0 1 0 2.4 0a1.2 1.2 0 1 0 -2.4 0zM289.6 379.8a1.2 1.2 0 1 0 2.4 0a1.2 1.2 0 1 0 -2.4 0zM292.8 379.8a1.2 1.2 0 1 0 2.4 0a1.2 1.2 0 1 0 -2.4 0zM296.2 379.4a1.2 1.2 0 1 0 2.4 0a1.2 1.2 0 1 0 -2.4 0zM299.4 384.0a1.2 1.2 0 1 0 2.4 0a1.2 1.2 0 1 0 -2.4 0zM302.6 383.2a1.2 1.2 0 1 0 2.4 0a1.2 1.2 0 1 0 -2.4 0zM305.8 381.0a1.2 1.2 0 1 0 2.4 0a1.2 1.2 0 1 0 -2.4 0zM309.2 382.6a1.2 1.2 0 1 0 2.4 0a1.2 1.2 0 1 0 -2.4 0zM312.4 380.0a1.2 1.2 0 1 0 2.4 0a1.2 1.2 0 1 0 -2.4 0zM315.6 377.2a1.2 1.2 0 1 0 2.4 0a1.2 1.2 0 1 0 -2.4 0zM318.8 374.6a1.2 1.2 0 1 0 2.4 0a1.2 1.2 0 1 0 -2.4 0zM322.2 379.4a1.2 1.2 0 1 0 2.4 0a1.2 1.2 0 1 0 -2.4 0zM325.6 384.6a1.2 1.2 0 1 0 2.4 0a1.2 1.2 0 1 0 -2.4 0zM328.8 383.7a1.2 1.2 0 1 0 2.4 0a1.2 1.2 0 1 0 -2.4 0zM332.1 378.1a1.2 1.2 0 1 0 2.4 0a1.2 1.2 0 1 0 -2.4 0zM335.3 383.3a1.2 1.2 0 1 0 2.4 0a1.2 1.2 0 1 0 -2.4 0zM338.6 384.8a1.2 1.2 0 1 0 2.4 0a1.2 1.2 0 1 0 -2.4 0zM341.8 385.4a1.2 1.2 0 1 0 2.4 0a1.2 1.2 0 1 0 -2.4 0zM345.1 382.7a1.2 1.2 0 1 0 2.4 0a1.2 1.2 0 1 0 -2.4 0zM348.3 380.2a1.2 1.2 0 1 0 2.4 0a1.2 1.2 0 1 0 -2.4 0zM351.6 384.2a1.2 1.2 0 1 0 2.4 0a1.2 1.2 0 1 0 -2.4 0zM354.8 381.8a1.2 1.2 0 1 0 2.4 0a1.2 1.2 0 1 0 -2.4 0zM358.1 389.6a1.2 1.2 0 1 0 2.4 0a1.2 1.2 0 1 0 -2.4 0zM361.3 386.5a1.2 1.2 0 1 0 2.4 0a1.2 1.2 0 1 0 -2.4 0zM364.5 383.2a1.2 1.2 0 1 0 2.4 0a1.2 1.2 0 1 0 -2.4 0zM367.8 381.8a1.2 1.2 0 1 0 2.4 0a1.2 1.2 0 1 0 -2.4 0zM371.0 380.9a1.2 1.2 0 1 0 2.4 0a1.2 1.2 0 1 0 -2.4 0zM374.3 380.0a1.2 1.2 0 1 0 2.4 0a1.2 1.2 0 1 0 -2.4 0zM377.5 382.3a1.2 1.2 0 1 0 2.4 0a1.2 1.2 0 1 0 -2.4 0zM380.8 384.7a1.2 1.2 0 1 0 2.4 0a1.2 1.2 0 1 0 -2.4 0zM384.0 385.6a1.2 1.2 0 1 0 2.4 0a1.2 1.2 0 1 0 -2.4 0zM387.3 385.8a1.2 1.2 0 1 0 2.4 0a1.2 1.2 0 1 0 -2.4 0zM390.5 391.6a1.2 1.2 0 1 0 2.4 0a1.2 1.2 0 1 0 -2.4 0zM393.7 380.9a1.2 1.2 0 1 0 2.4 0a1.2 1.2 0 1 0 -2.4 0zM397.0 383.6a1.2 1.2 0 1 0 2.4 0a1.2 1.2 0 1 0 -2.4 0zM400.2 393.0a1.2 1.2 0 1 0 2.4 0a1.2 1.2 0 1 0 -2.4 0zM403.5 376.5a1.2 1.2 0 1 0 2.4 0a1.2 1.2 0 1 0 -2.4 0zM406.7 381.6a1.2 1.2 0 1 0 2.4 0a1.2 1.2 0 1 0 -2.4 0zM410.0 384.2a1.2 1.2 0 1 0 2.4 0a1.2 1.2 0 1 0 -2.4 0zM413.2 384.2a1.2 1.2 0 1 0 2.4 0a1.2 1.2 0 1 0 -2.4 0zM416.5 385.1a1.2 1.2 0 1 0 2.4 0a1.2 1.2 0 1 0 -2.4 0zM419.7 382.7a1.2 1.2 0 1 0 2.4 0a1.2 1.2 0 1 0 -2.4 0zM423.0 385.0a1.2 1.2 0 1 0 2.4 0a1.2 1.2 0 1 0 -2.4 0zM426.2 383.8a1.2 1.2 0 1 0 2.4 0a1.2 1.2 0 1 0 -2.4 0zM429.4 386.5a1.2 1.2 0 1 0 2.4 0a1.2 1.2 0 1 0 -2.4 0zM432.7 376.4a1.2 1.2 0 1 0 2.4 0a1.2 1.2 0 1 0 -2.4 0zM435.9 380.2a1.2 1.2 0 1 0 2.4 0a1.2 1.2 0 1 0 -2.4 0zM439.2 383.6a1.2 1.2 0 1 0 2.4 0a1.2 1.2 0 1 0 -2.4 0zM442.4 379.7a1.2 1.2 0 1 0 2.4 0a1.2 1.2 0 1 0 -2.4 0zM445.7 379.6a1.2 1.2 0 1 0 2.4 0a1.2 1.2 0 1 0 -2.4 0zM448.9 386.0a1.2 1.2 0 1 0 2.4 0a1.2 1.2 0 1 0 -2.4 0zM452.2 381.1a1.2 1.2 0 1 0 2.4 0a1.2 1.2 0 1 0 -2.4 0zM455.4 386.0a1.2 1.2 0 1 0 2.4 0a1.2 1.2 0 1 0 -2.4 0zM458.6 386.4a1.2 1.2 0 1 0 2.4 0a1.2 1.2 0 1 0 -2.4 0zM461.9 384.8a1.2 1.2 0 1 0 2.4 0a1.2 1.2 0 1 0 -2.4 0zM465.1 385.5a1.2 1.2 0 1 0 2.4 0a1.2 1.2 0 1 0 -2.4 0zM468.4 383.2a1.2 1.2 0 1 0 2.4 0a1.2 1.2 0 1 0 -2.4 0zM471.6 378.2a1.2 1.2 0 1 0 2.4 0a1.2 1.2 0 1 0 -2.4 0zM474.9 383.5a1.2 1.2 0 1 0 2.4 0a1.2 1.2 0 1 0 -2.4 0zM478.1 385.3a1.2 1.2 0 1 0 2.4 0a1.2 1.2 0 1 0 -2.4 0zM481.4 381.6a1.2 1.2 0 1 0 2.4 0a1.2 1.2 0 1 0 -2.4 0zM484.6 383.2a1.2 1.2 0 1 0 2.4 0a1.2 1.2 0 1 0 -2.4 0zM487.9 386.4a1.2 1.2 0 1 0 2.4 0a1.2 1.2 0 1 0 -2.4 0zM491.1 380.3a1.2 1.2 0 1 0 2.4 0a1.2 1.2 0 1 0 -2.4 0zM494.3 386.0a1.2 1.2 0 1 0 2.4 0a1.2 1.2 0 1 0 -2.4 0zM497.6 390.7a1.2 1.2 0 1 0 2.4 0a1.2 1.2 0 1 0 -2.4 0zM500.8 381.5a1.2 1.2 0 1 0 2.4 0a1.2 1.2 0 1 0 -2.4 0zM504.1 384.2a1.2 1.2 0 1 0 2.4 0a1.2 1.2 0 1 0 -2.4 0zM507.3 383.0a1.2 1.2 0 1 0 2.4 0a1.2 1.2 0 1 0 -2.4 0zM510.6 389.5a1.2 1.2 0 1 0 2.4 0a1.2 1.2 0 1 0 -2.4 0zM513.8 384.8a1.2 1.2 0 1 0 2.4 0a1.2 1.2 0 1 0 -2.4 0zM517.1 387.0a1.2 1.2 0 1 0 2.4 0a1.2 1.2 0 1 0 -2.4 0zM520.3 381.0a1.2 1.2 0 1 0 2.4 0a1.2 1.2 0 1 0 -2.4 0zM523.5 383.5a1.2 1.2 0 1 0 2.4 0a1.2 1.2 0 1 0 -2.4 0zM526.8 383.6a1.2 1.2 0 1 0 2.4 0a1.2 1.2 0 1 0 -2.4 0zM530.0 376.9a1.2 1.2 0 1 0 2.4 0a1.2 1.2 0 1 0 -2.4 0zM533.3 389.1a1.2 1.2 0 1 0 2.4 0a1.2 1.2 0 1 0 -2.4 0zM536.5 387.0a1.2 1.2 0 1 0 2.4 0a1.2 1.2 0 1 0 -2.4 0zM539.8 377.0a1.2 1.2 0 1 0 2.4 0a1.2 1.2 0 1 0 -2.4 0zM543.0 386.4a1.2 1.2 0 1 0 2.4 0a1.2 1.2 0 1 0 -2.4 0zM546.3 383.1a1.2 1.2 0 1 0 2.4 0a1.2 1.2 0 1 0 -2.4 0zM549.5 385.3a1.2 1.2 0 1 0 2.4 0a1.2 1.2 0 1 0 -2.4 0zM552.8 385.0a1.2 1.2 0 1 0 2.4 0a1.2 1.2 0 1 0 -2.4 0zM556.0 377.9a1.2 1.2 0 1 0 2.4 0a1.2 1.2 0 1 0 -2.4 0zM559.2 382.8a1.2 1.2 0 1 0 2.4 0a1.2 1.2 0 1 0 -2.4 0zM562.5 389.3a1.2 1.2 0 1 0 2.4 0a1.2 1.2 0 1 0 -2.4 0zM565.7 381.4a1.2 1.2 0 1 0 2.4 0a1.2 1.2 0 1 0 -2.4 0zM569.0 379.7a1.2 1.2 0 1 0 2.4 0a1.2 1.2 0 1 0 -2.4 0zM572.2 378.4a1.2 1.2 0 1 0 2.4 0a1.2 1.2 0 1 0 -2.4 0zM575.5 379.0a1.2 1.2 0 1 0 2.4 0a1.2 1.2 0 1 0 -2.4 0zM578.7 384.9a1.2 1.2 0 1 0 2.4 0a1.2 1.2 0 1 0 -2.4 0zM582.0 390.0a1.2 1.2 0 1 0 2.4 0a1.2 1.2 0 1 0 -2.4 0zM585.2 385.2a1.2 1.2 0 1 0 2.4 0a1.2 1.2 0 1 0 -2.4 0zM588.4 384.5a1.2 1.2 0 1 0 2.4 0a1.2 1.2 0 1 0 -2.4 0zM591.7 392.1a1.2 1.2 0 1 0 2.4 0a1.2 1.2 0 1 0 -2.4 0zM594.9 381.6a1.2 1.2 0 1 0 2.4 0a1.2 1.2 0 1 0 -2.4 0zM598.2 381.0a1.2 1.2 0 1 0 2.4 0a1.2 1.2 0 1 0 -2.4 0zM601.4 385.6a1.2 1.2 0 1 0 2.4 0a1.2 1.2 0 1 0 -2.4 0zM604.7 385.7a1.2 1.2 0 1 0 2.4 0a1.2 1.2 0 1 0 -2.4 0zM607.9 379.7a1.2 1.2 0 1 0 2.4 0a1.2 1.2 0 1 0 -2.4 0zM611.2 379.2a1.2 1.2 0 1 0 2.4 0a1.2 1.2 0 1 0 -2.4 0zM614.4 384.7a1.2 1.2 0 1 0 2.4 0a1.2 1.2 0 1 0 -2.4 0zM617.7 384.5a1.2 1.2 0 1 0 2.4 0a1.2 1.2 0 1 0 -2.4 0zM620.9 378.6a1.2 1.2 0 1 0 2.4 0a1.2 1.2 0 1 0 -2.4 0zM624.1 382.8a1.2 1.2 0 1 0 2.4 0a1.2 1.2 0 1 0 -2.4 0zM627.4 381.5a1.2 1.2 0 1 0 2.4 0a1.2 1.2 0 1 0 -2.4 0zM630.6 385.3a1.2 1.2 0 1 0 2.4 0a1.2 1.2 0 1 0 -2.4 0zM633.9 383.2a1.2 1.2 0 1 0 2.4 0a1.2 1.2 0 1 0 -2.4 0zM637.1 383.3a1.2 1.2 0 1 0 2.4 0a1.2 1.2 0 1 0 -2.4 0zM640.4 382.3a1.2 1.2 0 1 0 2.4 0a1.2 1.2 0 1 0 -2.4 0zM643.6 387.6a1.2 1.2 0 1 0 2.4 0a1.2 1.2 0 1 0 -2.4 0zM646.9 388.9a1.2 1.2 0 1 0 2.4 0a1.2 1.2 0 1 0 -2.4 0zM650.1 382.2a1.2 1.2 0 1 0 2.4 0a1.2 1.2 0 1 0 -2.4 0zM653.3 386.8a1.2 1.2 0 1 0 2.4 0a1.2 1.2 0 1 0 -2.4 0zM656.6 380.7a1.2 1.2 0 1 0 2.4 0a1.2 1.2 0 1 0 -2.4 0zM659.8 383.9a1.2 1.2 0 1 0 2.4 0a1.2 1.2 0 1 0 -2.4 0zM663.1 386.4a1.2 1.2 0 1 0 2.4 0a1.2 1.2 0 1 0 -2.4 0zM666.3 389.4a1.2 1.2 0 1 0 2.4 0a1.2 1.2 0 1 0 -2.4 0zM669.6 382.1a1.2 1.2 0 1 0 2.4 0a1.2 1.2 0 1 0 -2.4 0zM672.8 383.3a1.2 1.2 0 1 0 2.4 0a1.2 1.2 0 1 0 -2.4 0zM676.1 384.3a1.2 1.2 0 1 0 2.4 0a1.2 1.2 0 1 0 -2.4 0zM679.3 377.9a1.2 1.2 0 1 0 2.4 0a1.2 1.2 0 1 0 -2.4 0zM682.6 383.7a1.2 1.2 0 1 0 2.4 0a1.2 1.2 0 1 0 -2.4 0zM685.8 381.0a1.2 1.2 0 1 0 2.4 0a1.2 1.2 0 1 0 -2.4 0zM689.0 385.0a1.2 1.2 0 1 0 2.4 0a1.2 1.2 0 1 0 -2.4 0zM692.3 379.3a1.2 1.2 0 1 0 2.4 0a1.2 1.2 0 1 0 -2.4 0zM695.5 376.1a1.2 1.2 0 1 0 2.4 0a1.2 1.2 0 1 0 -2.4 0zM698.8 383.7a1.2 1.2 0 1 0 2.4 0a1.2 1.2 0 1 0 -2.4 0zM702.0 384.6a1.2 1.2 0 1 0 2.4 0a1.2 1.2 0 1 0 -2.4 0zM705.3 381.5a1.2 1.2 0 1 0 2.4 0a1.2 1.2 0 1 0 -2.4 0zM708.5 387.0a1.2 1.2 0 1 0 2.4 0a1.2 1.2 0 1 0 -2.4 0zM711.8 382.6a1.2 1.2 0 1 0 2.4 0a1.2 1.2 0 1 0 -2.4 0zM715.0 381.3a1.2 1.2 0 1 0 2.4 0a1.2 1.2 0 1 0 -2.4 0zM718.2 385.4a1.2 1.2 0 1 0 2.4 0a1.2 1.2 0 1 0 -2.4 0zM721.5 377.6a1.2 1.2 0 1 0 2.4 0a1.2 1.2 0 1 0 -2.4 0zM724.7 381.0a1.2 1.2 0 1 0 2.4 0a1.2 1.2 0 1 0 -2.4 0zM728.0 383.5a1.2 1.2 0 1 0 2.4 0a1.2 1.2 0 1 0 -2.4 0zM151.2 374.5a1.2 1.2 0 1 0 2.4 0a1.2 1.2 0 1 0 -2.4 0zM151.2 375.6a1.2 1.2 0 1 0 2.4 0a1.2 1.2 0 1 0 -2.4 0zM151.2 376.7a1.2 1.2 0 1 0 2.4 0a1.2 1.2 0 1 0 -2.4 0zM151.2 377.8a1.2 1.2 0 1 0 2.4 0a1.2 1.2 0 1 0 -2.4 0zM151.2 378.9a1.2 1.2 0 1 0 2.4 0a1.2 1.2 0 1 0 -2.4 0zM151.2 380.0a1.2 1.2 0 1 0 2.4 0a1.2 1.2 0 1 0 -2.4 0zM151.2 381.1a1.2 1.2 0 1 0 2.4 0a1.2 1.2 0 1 0 -2.4 0zM151.2 382.2a1.2 1.2 0 1 0 2.4 0a1.2 1.2 0 1 0 -2.4 0zM151.2 383.3a1.2 1.2 0 1 0 2.4 0a1.2 1.2 0 1 0 -2.4 0zM151.2 384.4a1.2 1.2 0 1 0 2.4 0a1.2 1.2 0 1 0 -2.4 0zM151.2 385.5a1.2 1.2 0 1 0 2.4 0a1.2 1.2 0 1 0 -2.4 0zM151.2 386.6a1.2 1.2 0 1 0 2.4 0a1.2 1.2 0 1 0 -2.4 0zM151.2 387.7a1.2 1.2 0 1 0 2.4 0a1.2 1.2 0 1 0 -2.4 0zM151.2 388.8a1.2 1.2 0 1 0 2.4 0a1.2 1.2 0 1 0 -2.4 0zM774.9 382.0a1.2 1.2 0 1 0 2.4 0a1.2 1.2 0 1 0 -2.4 0zM740.9 390.0a1.2 1.2 0 1 0 2.4 0a1.2 1.2 0 1 0 -2.4 0zM740.5 384.5a1.2 1.2 0 1 0 2.4 0a1.2 1.2 0 1 0 -2.4 0zM774.1 381.5a1.2 1.2 0 1 0 2.4 0a1.2 1.2 0 1 0 -2.4 0zM753.1 385.2a1.2 1.2 0 1 0 2.4 0a1.2 1.2 0 1 0 -2.4 0zM749.5 386.5a1.2 1.2 0 1 0 2.4 0a1.2 1.2 0 1 0 -2.4 0zM760.9 386.1a1.2 1.2 0 1 0 2.4 0a1.2 1.2 0 1 0 -2.4 0zM748.4 383.7a1.2 1.2 0 1 0 2.4 0a1.2 1.2 0 1 0 -2.4 0zM740.1 386.1a1.2 1.2 0 1 0 2.4 0a1.2 1.2 0 1 0 -2.4 0zM732.7 384.0a1.2 1.2 0 1 0 2.4 0a1.2 1.2 0 1 0 -2.4 0zM733.1 378.8a1.2 1.2 0 1 0 2.4 0a1.2 1.2 0 1 0 -2.4 0zM770.9 388.7a1.2 1.2 0 1 0 2.4 0a1.2 1.2 0 1 0 -2.4 0zM764.0 391.9a1.2 1.2 0 1 0 2.4 0a1.2 1.2 0 1 0 -2.4 0zM745.4 384.2a1.2 1.2 0 1 0 2.4 0a1.2 1.2 0 1 0 -2.4 0zM738.8 389.3a1.2 1.2 0 1 0 2.4 0a1.2 1.2 0 1 0 -2.4 0zM731.8 382.2a1.2 1.2 0 1 0 2.4 0a1.2 1.2 0 1 0 -2.4 0zM760.9 382.0a1.2 1.2 0 1 0 2.4 0a1.2 1.2 0 1 0 -2.4 0zM745.6 386.5a1.2 1.2 0 1 0 2.4 0a1.2 1.2 0 1 0 -2.4 0zM738.1 387.0a1.2 1.2 0 1 0 2.4 0a1.2 1.2 0 1 0 -2.4 0zM746.5 384.3a1.2 1.2 0 1 0 2.4 0a1.2 1.2 0 1 0 -2.4 0zM774.3 390.4a1.2 1.2 0 1 0 2.4 0a1.2 1.2 0 1 0 -2.4 0zM739.8 390.3a1.2 1.2 0 1 0 2.4 0a1.2 1.2 0 1 0 -2.4 0zM746.7 387.0a1.2 1.2 0 1 0 2.4 0a1.2 1.2 0 1 0 -2.4 0zM750.2 378.8a1.2 1.2 0 1 0 2.4 0a1.2 1.2 0 1 0 -2.4 0zM732.6 381.2a1.2 1.2 0 1 0 2.4 0a1.2 1.2 0 1 0 -2.4 0zM772.6 384.8a1.2 1.2 0 1 0 2.4 0a1.2 1.2 0 1 0 -2.4 0zM739.2 379.7a1.2 1.2 0 1 0 2.4 0a1.2 1.2 0 1 0 -2.4 0zM731.7 389.6a1.2 1.2 0 1 0 2.4 0a1.2 1.2 0 1 0 -2.4 0zM749.2 386.4a1.2 1.2 0 1 0 2.4 0a1.2 1.2 0 1 0 -2.4 0zM732.2 379.1a1.2 1.2 0 1 0 2.4 0a1.2 1.2 0 1 0 -2.4 0zM731.9 391.2a1.2 1.2 0 1 0 2.4 0a1.2 1.2 0 1 0 -2.4 0zM742.1 387.1a1.2 1.2 0 1 0 2.4 0a1.2 1.2 0 1 0 -2.4 0zM764.7 386.7a1.2 1.2 0 1 0 2.4 0a1.2 1.2 0 1 0 -2.4 0zM742.8 382.5a1.2 1.2 0 1 0 2.4 0a1.2 1.2 0 1 0 -2.4 0zM774.4 382.4a1.2 1.2 0 1 0 2.4 0a1.2 1.2 0 1 0 -2.4 0zM763.3 382.6a1.2 1.2 0 1 0 2.4 0a1.2 1.2 0 1 0 -2.4 0zM744.9 384.3a1.2 1.2 0 1 0 2.4 0a1.2 1.2 0 1 0 -2.4 0zM765.1 384.6a1.2 1.2 0 1 0 2.4 0a1.2 1.2 0 1 0 -2.4 0zM772.5 379.0a1.2 1.2 0 1 0 2.4 0a1.2 1.2 0 1 0 -2.4 0zM731.4 378.4a1.2 1.2 0 1 0 2.4 0a1.2 1.2 0 1 0 -2.4 0zM741.1 376.3a1.2 1.2 0 1 0 2.4 0a1.2 1.2 0 1 0 -2.4 0zM774.2 385.6a1.2 1.2 0 1 0 2.4 0a1.2 1.2 0 1 0 -2.4 0zM748.1 384.3a1.2 1.2 0 1 0 2.4 0a1.2 1.2 0 1 0 -2.4 0zM753.0 387.8a1.2 1.2 0 1 0 2.4 0a1.2 1.2 0 1 0 -2.4 0zM773.0 386.7a1.2 1.2 0 1 0 2.4 0a1.2 1.2 0 1 0 -2.4 0zM764.3 389.7a1.2 1.2 0 1 0 2.4 0a1.2 1.2 0 1 0 -2.4 0zM768.1 384.9a1.2 1.2 0 1 0 2.4 0a1.2 1.2 0 1 0 -2.4 0zM745.4 379.8a1.2 1.2 0 1 0 2.4 0a1.2 1.2 0 1 0 -2.4 0zM745.0 380.6a1.2 1.2 0 1 0 2.4 0a1.2 1.2 0 1 0 -2.4 0zM733.9 388.7a1.2 1.2 0 1 0 2.4 0a1.2 1.2 0 1 0 -2.4 0zM739.4 384.3a1.2 1.2 0 1 0 2.4 0a1.2 1.2 0 1 0 -2.4 0zM733.3 381.8a1.2 1.2 0 1 0 2.4 0a1.2 1.2 0 1 0 -2.4 0zM731.9 381.5a1.2 1.2 0 1 0 2.4 0a1.2 1.2 0 1 0 -2.4 0zM775.4 383.3a1.2 1.2 0 1 0 2.4 0a1.2 1.2 0 1 0 -2.4 0zM770.9 386.9a1.2 1.2 0 1 0 2.4 0a1.2 1.2 0 1 0 -2.4 0zM734.2 384.1a1.2 1.2 0 1 0 2.4 0a1.2 1.2 0 1 0 -2.4 0zM734.7 379.1a1.2 1.2 0 1 0 2.4 0a1.2 1.2 0 1 0 -2.4 0zM750.9 384.3a1.2 1.2 0 1 0 2.4 0a1.2 1.2 0 1 0 -2.4 0zM741.1 380.3a1.2 1.2 0 1 0 2.4 0a1.2 1.2 0 1 0 -2.4 0zM761.3 386.6a1.2 1.2 0 1 0 2.4 0a1.2 1.2 0 1 0 -2.4 0zM764.7 387.1a1.2 1.2 0 1 0 2.4 0a1.2 1.2 0 1 0 -2.4 0zM735.9 380.3a1.2 1.2 0 1 0 2.4 0a1.2 1.2 0 1 0 -2.4 0zM769.0 383.1a1.2 1.2 0 1 0 2.4 0a1.2 1.2 0 1 0 -2.4 0zM747.5 388.4a1.2 1.2 0 1 0 2.4 0a1.2 1.2 0 1 0 -2.4 0zM764.3 385.1a1.2 1.2 0 1 0 2.4 0a1.2 1.2 0 1 0 -2.4 0zM741.6 386.7a1.2 1.2 0 1 0 2.4 0a1.2 1.2 0 1 0 -2.4 0zM737.4 387.5a1.2 1.2 0 1 0 2.4 0a1.2 1.2 0 1 0 -2.4 0zM745.3 381.4a1.2 1.2 0 1 0 2.4 0a1.2 1.2 0 1 0 -2.4 0zM748.5 388.2a1.2 1.2 0 1 0 2.4 0a1.2 1.2 0 1 0 -2.4 0zM740.9 384.1a1.2 1.2 0 1 0 2.4 0a1.2 1.2 0 1 0 -2.4 0zM767.5 378.5a1.2 1.2 0 1 0 2.4 0a1.2 1.2 0 1 0 -2.4 0zM735.0 376.3a1.2 1.2 0 1 0 2.4 0a1.2 1.2 0 1 0 -2.4 0zM752.1 387.0a1.2 1.2 0 1 0 2.4 0a1.2 1.2 0 1 0 -2.4 0zM772.4 378.6a1.2 1.2 0 1 0 2.4 0a1.2 1.2 0 1 0 -2.4 0zM732.2 383.8a1.2 1.2 0 1 0 2.4 0a1.2 1.2 0 1 0 -2.4 0zM739.0 385.9a1.2 1.2 0 1 0 2.4 0a1.2 1.2 0 1 0 -2.4 0zM775.1 377.7a1.2 1.2 0 1 0 2.4 0a1.2 1.2 0 1 0 -2.4 0zM747.4 380.5a1.2 1.2 0 1 0 2.4 0a1.2 1.2 0 1 0 -2.4 0zM770.1 381.9a1.2 1.2 0 1 0 2.4 0a1.2 1.2 0 1 0 -2.4 0zM766.1 385.1a1.2 1.2 0 1 0 2.4 0a1.2 1.2 0 1 0 -2.4 0zM773.8 387.8a1.2 1.2 0 1 0 2.4 0a1.2 1.2 0 1 0 -2.4 0zM758.8 387.0a1.2 1.2 0 1 0 2.4 0a1.2 1.2 0 1 0 -2.4 0zM740.3 383.1a1.2 1.2 0 1 0 2.4 0a1.2 1.2 0 1 0 -2.4 0zM739.7 385.6a1.2 1.2 0 1 0 2.4 0a1.2 1.2 0 1 0 -2.4 0zM742.0 380.4a1.2 1.2 0 1 0 2.4 0a1.2 1.2 0 1 0 -2.4 0zM739.7 381.5a1.2 1.2 0 1 0 2.4 0a1.2 1.2 0 1 0 -2.4 0zM730.8 382.0a1.2 1.2 0 1 0 2.4 0a1.2 1.2 0 1 0 -2.4 0zM738.8 388.7a1.2 1.2 0 1 0 2.4 0a1.2 1.2 0 1 0 -2.4 0zM744.7 386.0a1.2 1.2 0 1 0 2.4 0a1.2 1.2 0 1 0 -2.4 0zM755.5 389.9a1.2 1.2 0 1 0 2.4 0a1.2 1.2 0 1 0 -2.4 0zM733.2 387.0a1.2 1.2 0 1 0 2.4 0a1.2 1.2 0 1 0 -2.4 0zM755.6 386.3a1.2 1.2 0 1 0 2.4 0a1.2 1.2 0 1 0 -2.4 0zM759.7 386.0a1.2 1.2 0 1 0 2.4 0a1.2 1.2 0 1 0 -2.4 0zM762.3 385.4a1.2 1.2 0 1 0 2.4 0a1.2 1.2 0 1 0 -2.4 0zM749.2 383.7a1.2 1.2 0 1 0 2.4 0a1.2 1.2 0 1 0 -2.4 0zM774.1 387.1a1.2 1.2 0 1 0 2.4 0a1.2 1.2 0 1 0 -2.4 0zM744.7 381.5a1.2 1.2 0 1 0 2.4 0a1.2 1.2 0 1 0 -2.4 0zM749.5 383.0a1.2 1.2 0 1 0 2.4 0a1.2 1.2 0 1 0 -2.4 0zM770.1 387.4a1.2 1.2 0 1 0 2.4 0a1.2 1.2 0 1 0 -2.4 0zM739.4 384.2a1.2 1.2 0 1 0 2.4 0a1.2 1.2 0 1 0 -2.4 0zM763.8 384.4a1.2 1.2 0 1 0 2.4 0a1.2 1.2 0 1 0 -2.4 0zM771.8 384.6a1.2 1.2 0 1 0 2.4 0a1.2 1.2 0 1 0 -2.4 0zM749.8 385.7a1.2 1.2 0 1 0 2.4 0a1.2 1.2 0 1 0 -2.4 0zM770.9 381.3a1.2 1.2 0 1 0 2.4 0a1.2 1.2 0 1 0 -2.4 0zM751.5 384.6a1.2 1.2 0 1 0 2.4 0a1.2 1.2 0 1 0 -2.4 0zM755.7 384.8a1.2 1.2 0 1 0 2.4 0a1.2 1.2 0 1 0 -2.4 0zM759.8 385.5a1.2 1.2 0 1 0 2.4 0a1.2 1.2 0 1 0 -2.4 0zM758.9 383.5a1.2 1.2 0 1 0 2.4 0a1.2 1.2 0 1 0 -2.4 0zM747.4 382.4a1.2 1.2 0 1 0 2.4 0a1.2 1.2 0 1 0 -2.4 0zM743.3 384.2a1.2 1.2 0 1 0 2.4 0a1.2 1.2 0 1 0 -2.4 0zM754.3 385.7a1.2 1.2 0 1 0 2.4 0a1.2 1.2 0 1 0 -2.4 0zM752.9 383.6a1.2 1.2 0 1 0 2.4 0a1.2 1.2 0 1 0 -2.4 0zM767.3 386.4a1.2 1.2 0 1 0 2.4 0a1.2 1.2 0 1 0 -2.4 0zM736.1 383.8a1.2 1.2 0 1 0 2.4 0a1.2 1.2 0 1 0 -2.4 0zM773.7 388.0a1.2 1.2 0 1 0 2.4 0a1.2 1.2 0 1 0 -2.4 0zM732.8 383.7a1.2 1.2 0 1 0 2.4 0a1.2 1.2 0 1 0 -2.4 0zM772.9 378.9a1.2 1.2 0 1 0 2.4 0a1.2 1.2 0 1 0 -2.4 0zM758.8 388.9a1.2 1.2 0 1 0 2.4 0a1.2 1.2 0 1 0 -2.4 0zM768.2 387.4a1.2 1.2 0 1 0 2.4 0a1.2 1.2 0 1 0 -2.4 0zM740.5 389.2a1.2 1.2 0 1 0 2.4 0a1.2 1.2 0 1 0 -2.4 0zM748.9 387.8a1.2 1.2 0 1 0 2.4 0a1.2 1.2 0 1 0 -2.4 0zM738.7 379.2a1.2 1.2 0 1 0 2.4 0a1.2 1.2 0 1 0 -2.4 0zM740.3 381.1a1.2 1.2 0 1 0 2.4 0a1.2 1.2 0 1 0 -2.4 0zM747.9 386.6a1.2 1.2 0 1 0 2.4 0a1.2 1.2 0 1 0 -2.4 0zM736.0 384.4a1.2 1.2 0 1 0 2.4 0a1.2 1.2 0 1 0 -2.4 0zM771.6 389.6a1.2 1.2 0 1 0 2.4 0a1.2 1.2 0 1 0 -2.4 0zM732.2 379.2a1.2 1.2 0 1 0 2.4 0a1.2 1.2 0 1 0 -2.4 0zM732.1 382.2a1.2 1.2 0 1 0 2.4 0a1.2 1.2 0 1 0 -2.4 0zM768.9 387.6a1.2 1.2 0 1 0 2.4 0a1.2 1.2 0 1 0 -2.4 0zM755.6 387.3a1.2 1.2 0 1 0 2.4 0a1.2 1.2 0 1 0 -2.4 0zM759.1 383.1a1.2 1.2 0 1 0 2.4 0a1.2 1.2 0 1 0 -2.4 0zM757.1 387.5a1.2 1.2 0 1 0 2.4 0a1.2 1.2 0 1 0 -2.4 0zM749.9 382.4a1.2 1.2 0 1 0 2.4 0a1.2 1.2 0 1 0 -2.4 0zM750.5 381.3a1.2 1.2 0 1 0 2.4 0a1.2 1.2 0 1 0 -2.4 0zM731.4 381.5a1.2 1.2 0 1 0 2.4 0a1.2 1.2 0 1 0 -2.4 0zM741.1 381.7a1.2 1.2 0 1 0 2.4 0a1.2 1.2 0 1 0 -2.4 0zM765.4 385.0a1.2 1.2 0 1 0 2.4 0a1.2 1.2 0 1 0 -2.4 0zM738.6 380.7a1.2 1.2 0 1 0 2.4 0a1.2 1.2 0 1 0 -2.4 0zM752.1 385.7a1.2 1.2 0 1 0 2.4 0a1.2 1.2 0 1 0 -2.4 0zM750.1 385.4a1.2 1.2 0 1 0 2.4 0a1.2 1.2 0 1 0 -2.4 0zM734.5 380.6a1.2 1.2 0 1 0 2.4 0a1.2 1.2 0 1 0 -2.4 0zM732.2 385.7a1.2 1.2 0 1 0 2.4 0a1.2 1.2 0 1 0 -2.4 0zM759.6 389.0a1.2 1.2 0 1 0 2.4 0a1.2 1.2 0 1 0 -2.4 0zM766.1 387.0a1.2 1.2 0 1 0 2.4 0a1.2 1.2 0 1 0 -2.4 0zM753.8 388.0a1.2 1.2 0 1 0 2.4 0a1.2 1.2 0 1 0 -2.4 0zM747.7 385.6a1.2 1.2 0 1 0 2.4 0a1.2 1.2 0 1 0 -2.4 0zM774.0 388.6a1.2 1.2 0 1 0 2.4 0a1.2 1.2 0 1 0 -2.4 0zM776.1 389.2a1.2 1.2 0 1 0 2.4 0a1.2 1.2 0 1 0 -2.4 0zM764.0 385.2a1.2 1.2 0 1 0 2.4 0a1.2 1.2 0 1 0 -2.4 0zM775.5 382.3a1.2 1.2 0 1 0 2.4 0a1.2 1.2 0 1 0 -2.4 0zM752.9 391.4a1.2 1.2 0 1 0 2.4 0a1.2 1.2 0 1 0 -2.4 0zM737.9 382.3a1.2 1.2 0 1 0 2.4 0a1.2 1.2 0 1 0 -2.4 0zM766.6 385.4a1.2 1.2 0 1 0 2.4 0a1.2 1.2 0 1 0 -2.4 0zM746.4 383.8a1.2 1.2 0 1 0 2.4 0a1.2 1.2 0 1 0 -2.4 0zM765.1 388.1a1.2 1.2 0 1 0 2.4 0a1.2 1.2 0 1 0 -2.4 0zM742.9 390.2a1.2 1.2 0 1 0 2.4 0a1.2 1.2 0 1 0 -2.4 0zM767.8 386.7a1.2 1.2 0 1 0 2.4 0a1.2 1.2 0 1 0 -2.4 0zM772.6 387.4a1.2 1.2 0 1 0 2.4 0a1.2 1.2 0 1 0 -2.4 0zM739.9 384.0a1.2 1.2 0 1 0 2.4 0a1.2 1.2 0 1 0 -2.4 0zM745.0 388.2a1.2 1.2 0 1 0 2.4 0a1.2 1.2 0 1 0 -2.4 0zM732.0 385.1a1.2 1.2 0 1 0 2.4 0a1.2 1.2 0 1 0 -2.4 0zM773.4 386.1a1.2 1.2 0 1 0 2.4 0a1.2 1.2 0 1 0 -2.4 0zM761.6 385.9a1.2 1.2 0 1 0 2.4 0a1.2 1.2 0 1 0 -2.4 0zM766.4 383.1a1.2 1.2 0 1 0 2.4 0a1.2 1.2 0 1 0 -2.4 0zM735.6 379.7a1.2 1.2 0 1 0 2.4 0a1.2 1.2 0 1 0 -2.4 0zM746.8 383.4a1.2 1.2 0 1 0 2.4 0a1.2 1.2 0 1 0 -2.4 0zM770.5 380.2a1.2 1.2 0 1 0 2.4 0a1.2 1.2 0 1 0 -2.4 0zM770.9 382.8a1.2 1.2 0 1 0 2.4 0a1.2 1.2 0 1 0 -2.4 0zM735.1 388.9a1.2 1.2 0 1 0 2.4 0a1.2 1.2 0 1 0 -2.4 0zM748.4 384.1a1.2 1.2 0 1 0 2.4 0a1.2 1.2 0 1 0 -2.4 0zM767.0 383.4a1.2 1.2 0 1 0 2.4 0a1.2 1.2 0 1 0 -2.4 0zM756.9 392.3a1.2 1.2 0 1 0 2.4 0a1.2 1.2 0 1 0 -2.4 0zM746.9 384.6a1.2 1.2 0 1 0 2.4 0a1.2 1.2 0 1 0 -2.4 0zM738.4 380.7a1.2 1.2 0 1 0 2.4 0a1.2 1.2 0 1 0 -2.4 0zM764.5 390.1a1.2 1.2 0 1 0 2.4 0a1.2 1.2 0 1 0 -2.4 0zM742.0 386.1a1.2 1.2 0 1 0 2.4 0a1.2 1.2 0 1 0 -2.4 0zM759.7 388.7a1.2 1.2 0 1 0 2.4 0a1.2 1.2 0 1 0 -2.4 0zM760.8 383.9a1.2 1.2 0 1 0 2.4 0a1.2 1.2 0 1 0 -2.4 0zM744.7 385.2a1.2 1.2 0 1 0 2.4 0a1.2 1.2 0 1 0 -2.4 0zM737.2 384.3a1.2 1.2 0 1 0 2.4 0a1.2 1.2 0 1 0 -2.4 0zM758.6 380.7a1.2 1.2 0 1 0 2.4 0a1.2 1.2 0 1 0 -2.4 0zM771.5 385.9a1.2 1.2 0 1 0 2.4 0a1.2 1.2 0 1 0 -2.4 0zM736.4 385.0a1.2 1.2 0 1 0 2.4 0a1.2 1.2 0 1 0 -2.4 0zM731.3 389.1a1.2 1.2 0 1 0 2.4 0a1.2 1.2 0 1 0 -2.4 0zM730.4 383.3a1.2 1.2 0 1 0 2.4 0a1.2 1.2 0 1 0 -2.4 0zM746.7 385.5a1.2 1.2 0 1 0 2.4 0a1.2 1.2 0 1 0 -2.4 0zM740.6 380.5a1.2 1.2 0 1 0 2.4 0a1.2 1.2 0 1 0 -2.4 0zM739.7 382.1a1.2 1.2 0 1 0 2.4 0a1.2 1.2 0 1 0 -2.4 0zM759.0 382.5a1.2 1.2 0 1 0 2.4 0a1.2 1.2 0 1 0 -2.4 0zM773.4 384.6a1.2 1.2 0 1 0 2.4 0a1.2 1.2 0 1 0 -2.4 0zM741.5 385.2a1.2 1.2 0 1 0 2.4 0a1.2 1.2 0 1 0 -2.4 0zM759.7 385.5a1.2 1.2 0 1 0 2.4 0a1.2 1.2 0 1 0 -2.4 0zM770.4 385.0a1.2 1.2 0 1 0 2.4 0a1.2 1.2 0 1 0 -2.4 0zM742.5 381.0a1.2 1.2 0 1 0 2.4 0a1.2 1.2 0 1 0 -2.4 0zM730.8 381.7a1.2 1.2 0 1 0 2.4 0a1.2 1.2 0 1 0 -2.4 0zM746.4 380.9a1.2 1.2 0 1 0 2.4 0a1.2 1.2 0 1 0 -2.4 0zM760.0 377.0a1.2 1.2 0 1 0 2.4 0a1.2 1.2 0 1 0 -2.4 0zM764.0 387.0a1.2 1.2 0 1 0 2.4 0a1.2 1.2 0 1 0 -2.4 0zM741.7 385.1a1.2 1.2 0 1 0 2.4 0a1.2 1.2 0 1 0 -2.4 0zM754.8 383.7a1.2 1.2 0 1 0 2.4 0a1.2 1.2 0 1 0 -2.4 0zM749.0 384.4a1.2 1.2 0 1 0 2.4 0a1.2 1.2 0 1 0 -2.4 0zM766.1 385.4a1.2 1.2 0 1 0 2.4 0a1.2 1.2 0 1 0 -2.4 0zM730.9 376.8a1.2 1.2 0 1 0 2.4 0a1.2 1.2 0 1 0 -2.4 0zM736.8 381.8a1.2 1.2 0 1 0 2.4 0a1.2 1.2 0 1 0 -2.4 0zM739.5 381.2a1.2 1.2 0 1 0 2.4 0a1.2 1.2 0 1 0 -2.4 0zM759.8 381.8a1.2 1.2 0 1 0 2.4 0a1.2 1.2 0 1 0 -2.4 0zM767.7 385.6a1.2 1.2 0 1 0 2.4 0a1.2 1.2 0 1 0 -2.4 0zM744.1 386.8a1.2 1.2 0 1 0 2.4 0a1.2 1.2 0 1 0 -2.4 0zM732.5 388.7a1.2 1.2 0 1 0 2.4 0a1.2 1.2 0 1 0 -2.4 0zM763.2 380.6a1.2 1.2 0 1 0 2.4 0a1.2 1.2 0 1 0 -2.4 0zM730.6 387.4a1.2 1.2 0 1 0 2.4 0a1.2 1.2 0 1 0 -2.4 0zM751.7 379.8a1.2 1.2 0 1 0 2.4 0a1.2 1.2 0 1 0 -2.4 0zM764.4 382.0a1.2 1.2 0 1 0 2.4 0a1.2 1.2 0 1 0 -2.4 0zM735.1 385.0a1.2 1.2 0 1 0 2.4 0a1.2 1.2 0 1 0 -2.4 0zM741.0 387.2a1.2 1.2 0 1 0 2.4 0a1.2 1.2 0 1 0 -2.4 0zM764.8 385.0a1.2 1.2 0 1 0 2.4 0a1.2 1.2 0 1 0 -2.4 0zM762.3 387.2a1.2 1.2 0 1 0 2.4 0a1.2 1.2 0 1 0 -2.4 0zM742.5 380.0a1.2 1.2 0 1 0 2.4 0a1.2 1.2 0 1 0 -2.4 0zM755.8 378.9a1.2 1.2 0 1 0 2.4 0a1.2 1.2 0 1 0 -2.4 0zM754.4 386.6a1.2 1.2 0 1 0 2.4 0a1.2 1.2 0 1 0 -2.4 0zM742.5 378.9a1.2 1.2 0 1 0 2.4 0a1.2 1.2 0 1 0 -2.4 0zM740.3 377.6a1.2 1.2 0 1 0 2.4 0a1.2 1.2 0 1 0 -2.4 0zM770.8 386.9a1.2 1.2 0 1 0 2.4 0a1.2 1.2 0 1 0 -2.4 0zM741.2 384.5a1.2 1.2 0 1 0 2.4 0a1.2 1.2 0 1 0 -2.4 0zM764.5 389.4a1.2 1.2 0 1 0 2.4 0a1.2 1.2 0 1 0 -2.4 0zM745.3 382.4a1.2 1.2 0 1 0 2.4 0a1.2 1.2 0 1 0 -2.4 0zM770.8 383.1a1.2 1.2 0 1 0 2.4 0a1.2 1.2 0 1 0 -2.4 0zM772.0 386.4a1.2 1.2 0 1 0 2.4 0a1.2 1.2 0 1 0 -2.4 0zM759.3 382.6a1.2 1.2 0 1 0 2.4 0a1.2 1.2 0 1 0 -2.4 0zM775.3 379.7a1.2 1.2 0 1 0 2.4 0a1.2 1.2 0 1 0 -2.4 0zM760.4 378.2a1.2 1.2 0 1 0 2.4 0a1.2 1.2 0 1 0 -2.4 0zM763.6 378.3a1.2 1.2 0 1 0 2.4 0a1.2 1.2 0 1 0 -2.4 0zM759.9 377.6a1.2 1.2 0 1 0 2.4 0a1.2 1.2 0 1 0 -2.4 0zM761.8 375.5a1.2 1.2 0 1 0 2.4 0a1.2 1.2 0 1 0 -2.4 0zM756.8 377.1a1.2 1.2 0 1 0 2.4 0a1.2 1.2 0 1 0 -2.4 0zM754.9 378.6a1.2 1.2 0 1 0 2.4 0a1.2 1.2 0 1 0 -2.4 0zM755.8 374.1a1.2 1.2 0 1 0 2.4 0a1.2 1.2 0 1 0 -2.4 0zM755.3 378.6a1.2 1.2 0 1 0 2.4 0a1.2 1.2 0 1 0 -2.4 0zM758.6 374.7a1.2 1.2 0 1 0 2.4 0a1.2 1.2 0 1 0 -2.4 0zM754.2 374.2a1.2 1.2 0 1 0 2.4 0a1.2 1.2 0 1 0 -2.4 0zM763.5 377.2a1.2 1.2 0 1 0 2.4 0a1.2 1.2 0 1 0 -2.4 0zM763.6 377.7a1.2 1.2 0 1 0 2.4 0a1.2 1.2 0 1 0 -2.4 0zM754.7 377.0a1.2 1.2 0 1 0 2.4 0a1.2 1.2 0 1 0 -2.4 0zM758.9 378.1a1.2 1.2 0 1 0 2.4 0a1.2 1.2 0 1 0 -2.4 0zM765.3 378.5a1.2 1.2 0 1 0 2.4 0a1.2 1.2 0 1 0 -2.4 0zM754.7 378.3a1.2 1.2 0 1 0 2.4 0a1.2 1.2 0 1 0 -2.4 0zM766.6 378.7a1.2 1.2 0 1 0 2.4 0a1.2 1.2 0 1 0 -2.4 0zM755.3 375.0a1.2 1.2 0 1 0 2.4 0a1.2 1.2 0 1 0 -2.4 0zM755.4 374.2a1.2 1.2 0 1 0 2.4 0a1.2 1.2 0 1 0 -2.4 0zM765.7 378.1a1.2 1.2 0 1 0 2.4 0a1.2 1.2 0 1 0 -2.4 0zM762.7 378.1a1.2 1.2 0 1 0 2.4 0a1.2 1.2 0 1 0 -2.4 0zM762.6 375.4a1.2 1.2 0 1 0 2.4 0a1.2 1.2 0 1 0 -2.4 0zM755.2 374.5a1.2 1.2 0 1 0 2.4 0a1.2 1.2 0 1 0 -2.4 0zM764.4 375.0a1.2 1.2 0 1 0 2.4 0a1.2 1.2 0 1 0 -2.4 0zM758.3 376.1a1.2 1.2 0 1 0 2.4 0a1.2 1.2 0 1 0 -2.4 0zM822.7 391.8a1.2 1.2 0 1 0 2.4 0a1.2 1.2 0 1 0 -2.4 0zM786.0 495.7a1.2 1.2 0 1 0 2.4 0a1.2 1.2 0 1 0 -2.4 0zM785.3 497.8a1.2 1.2 0 1 0 2.4 0a1.2 1.2 0 1 0 -2.4 0zM785.5 498.1a1.2 1.2 0 1 0 2.4 0a1.2 1.2 0 1 0 -2.4 0zM787.9 498.3a1.2 1.2 0 1 0 2.4 0a1.2 1.2 0 1 0 -2.4 0zM788.0 498.6a1.2 1.2 0 1 0 2.4 0a1.2 1.2 0 1 0 -2.4 0zM788.7 500.7a1.2 1.2 0 1 0 2.4 0a1.2 1.2 0 1 0 -2.4 0zM786.4 502.0a1.2 1.2 0 1 0 2.4 0a1.2 1.2 0 1 0 -2.4 0zM787.5 503.5a1.2 1.2 0 1 0 2.4 0a1.2 1.2 0 1 0 -2.4 0zM788.1 503.3a1.2 1.2 0 1 0 2.4 0a1.2 1.2 0 1 0 -2.4 0zM789.5 504.2a1.2 1.2 0 1 0 2.4 0a1.2 1.2 0 1 0 -2.4 0zM789.9 505.0a1.2 1.2 0 1 0 2.4 0a1.2 1.2 0 1 0 -2.4 0zM790.7 506.4a1.2 1.2 0 1 0 2.4 0a1.2 1.2 0 1 0 -2.4 0zM790.5 505.1a1.2 1.2 0 1 0 2.4 0a1.2 1.2 0 1 0 -2.4 0zM791.9 508.4a1.2 1.2 0 1 0 2.4 0a1.2 1.2 0 1 0 -2.4 0zM789.1 509.4a1.2 1.2 0 1 0 2.4 0a1.2 1.2 0 1 0 -2.4 0zM791.9 511.1a1.2 1.2 0 1 0 2.4 0a1.2 1.2 0 1 0 -2.4 0zM790.6 512.5a1.2 1.2 0 1 0 2.4 0a1.2 1.2 0 1 0 -2.4 0zM792.0 514.1a1.2 1.2 0 1 0 2.4 0a1.2 1.2 0 1 0 -2.4 0zM792.3 513.7a1.2 1.2 0 1 0 2.4 0a1.2 1.2 0 1 0 -2.4 0zM792.4 513.3a1.2 1.2 0 1 0 2.4 0a1.2 1.2 0 1 0 -2.4 0zM794.3 515.9a1.2 1.2 0 1 0 2.4 0a1.2 1.2 0 1 0 -2.4 0zM795.1 516.8a1.2 1.2 0 1 0 2.4 0a1.2 1.2 0 1 0 -2.4 0zM793.0 515.8a1.2 1.2 0 1 0 2.4 0a1.2 1.2 0 1 0 -2.4 0zM793.2 517.5a1.2 1.2 0 1 0 2.4 0a1.2 1.2 0 1 0 -2.4 0zM793.3 519.5a1.2 1.2 0 1 0 2.4 0a1.2 1.2 0 1 0 -2.4 0zM794.9 519.8a1.2 1.2 0 1 0 2.4 0a1.2 1.2 0 1 0 -2.4 0zM795.0 520.9a1.2 1.2 0 1 0 2.4 0a1.2 1.2 0 1 0 -2.4 0zM795.3 522.6a1.2 1.2 0 1 0 2.4 0a1.2 1.2 0 1 0 -2.4 0zM796.4 522.4a1.2 1.2 0 1 0 2.4 0a1.2 1.2 0 1 0 -2.4 0zM794.0 525.0a1.2 1.2 0 1 0 2.4 0a1.2 1.2 0 1 0 -2.4 0zM796.1 525.8a1.2 1.2 0 1 0 2.4 0a1.2 1.2 0 1 0 -2.4 0zM794.4 525.6a1.2 1.2 0 1 0 2.4 0a1.2 1.2 0 1 0 -2.4 0zM796.5 525.7a1.2 1.2 0 1 0 2.4 0a1.2 1.2 0 1 0 -2.4 0zM796.2 528.4a1.2 1.2 0 1 0 2.4 0a1.2 1.2 0 1 0 -2.4 0zM798.2 530.1a1.2 1.2 0 1 0 2.4 0a1.2 1.2 0 1 0 -2.4 0zM796.4 528.6a1.2 1.2 0 1 0 2.4 0a1.2 1.2 0 1 0 -2.4 0zM798.1 531.5a1.2 1.2 0 1 0 2.4 0a1.2 1.2 0 1 0 -2.4 0zM798.0 530.7a1.2 1.2 0 1 0 2.4 0a1.2 1.2 0 1 0 -2.4 0zM798.9 533.3a1.2 1.2 0 1 0 2.4 0a1.2 1.2 0 1 0 -2.4 0zM798.9 533.3a1.2 1.2 0 1 0 2.4 0a1.2 1.2 0 1 0 -2.4 0zM798.9 535.3a1.2 1.2 0 1 0 2.4 0a1.2 1.2 0 1 0 -2.4 0zM798.2 534.1a1.2 1.2 0 1 0 2.4 0a1.2 1.2 0 1 0 -2.4 0zM799.4 537.0a1.2 1.2 0 1 0 2.4 0a1.2 1.2 0 1 0 -2.4 0zM799.3 538.3a1.2 1.2 0 1 0 2.4 0a1.2 1.2 0 1 0 -2.4 0zM798.9 538.5a1.2 1.2 0 1 0 2.4 0a1.2 1.2 0 1 0 -2.4 0zM799.5 540.0a1.2 1.2 0 1 0 2.4 0a1.2 1.2 0 1 0 -2.4 0zM801.8 540.3a1.2 1.2 0 1 0 2.4 0a1.2 1.2 0 1 0 -2.4 0zM802.6 542.7a1.2 1.2 0 1 0 2.4 0a1.2 1.2 0 1 0 -2.4 0zM801.4 542.9a1.2 1.2 0 1 0 2.4 0a1.2 1.2 0 1 0 -2.4 0zM802.7 543.3a1.2 1.2 0 1 0 2.4 0a1.2 1.2 0 1 0 -2.4 0zM800.9 543.6a1.2 1.2 0 1 0 2.4 0a1.2 1.2 0 1 0 -2.4 0zM801.8 546.5a1.2 1.2 0 1 0 2.4 0a1.2 1.2 0 1 0 -2.4 0zM802.2 546.7a1.2 1.2 0 1 0 2.4 0a1.2 1.2 0 1 0 -2.4 0zM801.7 547.5a1.2 1.2 0 1 0 2.4 0a1.2 1.2 0 1 0 -2.4 0zM800.6 549.2a1.2 1.2 0 1 0 2.4 0a1.2 1.2 0 1 0 -2.4 0zM802.0 548.4a1.2 1.2 0 1 0 2.4 0a1.2 1.2 0 1 0 -2.4 0zM801.9 549.6a1.2 1.2 0 1 0 2.4 0a1.2 1.2 0 1 0 -2.4 0zM804.0 552.1a1.2 1.2 0 1 0 2.4 0a1.2 1.2 0 1 0 -2.4 0zM801.9 553.0a1.2 1.2 0 1 0 2.4 0a1.2 1.2 0 1 0 -2.4 0zM804.6 552.7a1.2 1.2 0 1 0 2.4 0a1.2 1.2 0 1 0 -2.4 0zM802.3 553.6a1.2 1.2 0 1 0 2.4 0a1.2 1.2 0 1 0 -2.4 0zM803.5 555.4a1.2 1.2 0 1 0 2.4 0a1.2 1.2 0 1 0 -2.4 0zM804.1 554.5a1.2 1.2 0 1 0 2.4 0a1.2 1.2 0 1 0 -2.4 0zM805.1 555.9a1.2 1.2 0 1 0 2.4 0a1.2 1.2 0 1 0 -2.4 0zM806.1 557.1a1.2 1.2 0 1 0 2.4 0a1.2 1.2 0 1 0 -2.4 0zM804.6 558.3a1.2 1.2 0 1 0 2.4 0a1.2 1.2 0 1 0 -2.4 0zM805.1 561.0a1.2 1.2 0 1 0 2.4 0a1.2 1.2 0 1 0 -2.4 0zM806.9 561.5a1.2 1.2 0 1 0 2.4 0a1.2 1.2 0 1 0 -2.4 0zM806.6 560.7a1.2 1.2 0 1 0 2.4 0a1.2 1.2 0 1 0 -2.4 0zM806.0 562.5a1.2 1.2 0 1 0 2.4 0a1.2 1.2 0 1 0 -2.4 0zM805.8 564.3a1.2 1.2 0 1 0 2.4 0a1.2 1.2 0 1 0 -2.4 0zM806.3 564.3a1.2 1.2 0 1 0 2.4 0a1.2 1.2 0 1 0 -2.4 0zM806.3 564.2a1.2 1.2 0 1 0 2.4 0a1.2 1.2 0 1 0 -2.4 0zM808.4 567.9a1.2 1.2 0 1 0 2.4 0a1.2 1.2 0 1 0 -2.4 0zM808.2 567.1a1.2 1.2 0 1 0 2.4 0a1.2 1.2 0 1 0 -2.4 0zM805.3 569.0a1.2 1.2 0 1 0 2.4 0a1.2 1.2 0 1 0 -2.4 0zM809.9 570.0a1.2 1.2 0 1 0 2.4 0a1.2 1.2 0 1 0 -2.4 0zM809.9 572.0a1.2 1.2 0 1 0 2.4 0a1.2 1.2 0 1 0 -2.4 0zM810.4 571.4a1.2 1.2 0 1 0 2.4 0a1.2 1.2 0 1 0 -2.4 0zM810.6 573.4a1.2 1.2 0 1 0 2.4 0a1.2 1.2 0 1 0 -2.4 0zM808.0 573.4a1.2 1.2 0 1 0 2.4 0a1.2 1.2 0 1 0 -2.4 0zM808.4 574.6a1.2 1.2 0 1 0 2.4 0a1.2 1.2 0 1 0 -2.4 0zM810.9 574.8a1.2 1.2 0 1 0 2.4 0a1.2 1.2 0 1 0 -2.4 0zM808.3 577.7a1.2 1.2 0 1 0 2.4 0a1.2 1.2 0 1 0 -2.4 0zM811.3 578.8a1.2 1.2 0 1 0 2.4 0a1.2 1.2 0 1 0 -2.4 0zM809.7 579.4a1.2 1.2 0 1 0 2.4 0a1.2 1.2 0 1 0 -2.4 0zM813.7 581.2a1.2 1.2 0 1 0 2.4 0a1.2 1.2 0 1 0 -2.4 0zM811.5 580.8a1.2 1.2 0 1 0 2.4 0a1.2 1.2 0 1 0 -2.4 0zM811.9 582.3a1.2 1.2 0 1 0 2.4 0a1.2 1.2 0 1 0 -2.4 0zM813.5 582.6a1.2 1.2 0 1 0 2.4 0a1.2 1.2 0 1 0 -2.4 0zM811.1 584.1a1.2 1.2 0 1 0 2.4 0a1.2 1.2 0 1 0 -2.4 0zM812.4 584.9a1.2 1.2 0 1 0 2.4 0a1.2 1.2 0 1 0 -2.4 0zM813.5 586.7a1.2 1.2 0 1 0 2.4 0a1.2 1.2 0 1 0 -2.4 0zM814.8 586.0a1.2 1.2 0 1 0 2.4 0a1.2 1.2 0 1 0 -2.4 0zM814.2 588.8a1.2 1.2 0 1 0 2.4 0a1.2 1.2 0 1 0 -2.4 0zM813.5 588.7a1.2 1.2 0 1 0 2.4 0a1.2 1.2 0 1 0 -2.4 0zM815.7 590.3a1.2 1.2 0 1 0 2.4 0a1.2 1.2 0 1 0 -2.4 0zM815.4 589.2a1.2 1.2 0 1 0 2.4 0a1.2 1.2 0 1 0 -2.4 0zM813.9 591.4a1.2 1.2 0 1 0 2.4 0a1.2 1.2 0 1 0 -2.4 0zM816.1 594.2a1.2 1.2 0 1 0 2.4 0a1.2 1.2 0 1 0 -2.4 0zM815.1 594.0a1.2 1.2 0 1 0 2.4 0a1.2 1.2 0 1 0 -2.4 0zM817.4 592.7a1.2 1.2 0 1 0 2.4 0a1.2 1.2 0 1 0 -2.4 0zM816.0 595.1a1.2 1.2 0 1 0 2.4 0a1.2 1.2 0 1 0 -2.4 0zM816.8 595.8a1.2 1.2 0 1 0 2.4 0a1.2 1.2 0 1 0 -2.4 0zM818.3 596.2a1.2 1.2 0 1 0 2.4 0a1.2 1.2 0 1 0 -2.4 0zM818.7 597.3a1.2 1.2 0 1 0 2.4 0a1.2 1.2 0 1 0 -2.4 0zM818.0 599.2a1.2 1.2 0 1 0 2.4 0a1.2 1.2 0 1 0 -2.4 0zM818.4 599.9a1.2 1.2 0 1 0 2.4 0a1.2 1.2 0 1 0 -2.4 0zM821.2 600.6a1.2 1.2 0 1 0 2.4 0a1.2 1.2 0 1 0 -2.4 0zM819.7 602.1a1.2 1.2 0 1 0 2.4 0a1.2 1.2 0 1 0 -2.4 0zM819.9 603.4a1.2 1.2 0 1 0 2.4 0a1.2 1.2 0 1 0 -2.4 0zM819.5 603.8a1.2 1.2 0 1 0 2.4 0a1.2 1.2 0 1 0 -2.4 0zM820.9 603.6a1.2 1.2 0 1 0 2.4 0a1.2 1.2 0 1 0 -2.4 0zM823.9 604.4a1.2 1.2 0 1 0 2.4 0a1.2 1.2 0 1 0 -2.4 0zM824.5 606.4a1.2 1.2 0 1 0 2.4 0a1.2 1.2 0 1 0 -2.4 0zM824.7 605.9a1.2 1.2 0 1 0 2.4 0a1.2 1.2 0 1 0 -2.4 0zM825.0 608.7a1.2 1.2 0 1 0 2.4 0a1.2 1.2 0 1 0 -2.4 0zM824.1 608.3a1.2 1.2 0 1 0 2.4 0a1.2 1.2 0 1 0 -2.4 0zM827.5 609.4a1.2 1.2 0 1 0 2.4 0a1.2 1.2 0 1 0 -2.4 0zM824.9 609.6a1.2 1.2 0 1 0 2.4 0a1.2 1.2 0 1 0 -2.4 0zM826.4 611.2a1.2 1.2 0 1 0 2.4 0a1.2 1.2 0 1 0 -2.4 0zM826.7 613.2a1.2 1.2 0 1 0 2.4 0a1.2 1.2 0 1 0 -2.4 0zM826.7 613.0a1.2 1.2 0 1 0 2.4 0a1.2 1.2 0 1 0 -2.4 0zM829.2 612.7a1.2 1.2 0 1 0 2.4 0a1.2 1.2 0 1 0 -2.4 0zM829.6 615.5a1.2 1.2 0 1 0 2.4 0a1.2 1.2 0 1 0 -2.4 0zM827.8 613.8a1.2 1.2 0 1 0 2.4 0a1.2 1.2 0 1 0 -2.4 0zM829.0 613.7a1.2 1.2 0 1 0 2.4 0a1.2 1.2 0 1 0 -2.4 0zM831.5 614.3a1.2 1.2 0 1 0 2.4 0a1.2 1.2 0 1 0 -2.4 0zM832.4 617.5a1.2 1.2 0 1 0 2.4 0a1.2 1.2 0 1 0 -2.4 0zM830.9 616.7a1.2 1.2 0 1 0 2.4 0a1.2 1.2 0 1 0 -2.4 0zM831.4 618.1a1.2 1.2 0 1 0 2.4 0a1.2 1.2 0 1 0 -2.4 0zM833.0 618.5a1.2 1.2 0 1 0 2.4 0a1.2 1.2 0 1 0 -2.4 0zM834.2 620.4a1.2 1.2 0 1 0 2.4 0a1.2 1.2 0 1 0 -2.4 0zM833.7 621.0a1.2 1.2 0 1 0 2.4 0a1.2 1.2 0 1 0 -2.4 0zM833.5 622.2a1.2 1.2 0 1 0 2.4 0a1.2 1.2 0 1 0 -2.4 0zM832.8 623.2a1.2 1.2 0 1 0 2.4 0a1.2 1.2 0 1 0 -2.4 0zM832.0 623.7a1.2 1.2 0 1 0 2.4 0a1.2 1.2 0 1 0 -2.4 0zM836.2 625.2a1.2 1.2 0 1 0 2.4 0a1.2 1.2 0 1 0 -2.4 0zM832.7 626.4a1.2 1.2 0 1 0 2.4 0a1.2 1.2 0 1 0 -2.4 0zM833.0 625.9a1.2 1.2 0 1 0 2.4 0a1.2 1.2 0 1 0 -2.4 0zM833.3 628.9a1.2 1.2 0 1 0 2.4 0a1.2 1.2 0 1 0 -2.4 0zM834.5 629.2a1.2 1.2 0 1 0 2.4 0a1.2 1.2 0 1 0 -2.4 0zM833.1 629.5a1.2 1.2 0 1 0 2.4 0a1.2 1.2 0 1 0 -2.4 0zM835.6 631.6a1.2 1.2 0 1 0 2.4 0a1.2 1.2 0 1 0 -2.4 0zM833.1 630.7a1.2 1.2 0 1 0 2.4 0a1.2 1.2 0 1 0 -2.4 0zM832.6 635.4a1.2 1.2 0 1 0 2.4 0a1.2 1.2 0 1 0 -2.4 0zM832.8 634.4a1.2 1.2 0 1 0 2.4 0a1.2 1.2 0 1 0 -2.4 0zM834.3 635.4a1.2 1.2 0 1 0 2.4 0a1.2 1.2 0 1 0 -2.4 0zM781.6 463.5a1.2 1.2 0 1 0 2.4 0a1.2 1.2 0 1 0 -2.4 0zM782.6 469.4a1.2 1.2 0 1 0 2.4 0a1.2 1.2 0 1 0 -2.4 0zM780.9 460.0a1.2 1.2 0 1 0 2.4 0a1.2 1.2 0 1 0 -2.4 0zM778.5 461.1a1.2 1.2 0 1 0 2.4 0a1.2 1.2 0 1 0 -2.4 0zM782.7 470.9a1.2 1.2 0 1 0 2.4 0a1.2 1.2 0 1 0 -2.4 0zM778.7 459.2a1.2 1.2 0 1 0 2.4 0a1.2 1.2 0 1 0 -2.4 0zM782.5 460.6a1.2 1.2 0 1 0 2.4 0a1.2 1.2 0 1 0 -2.4 0zM782.5 467.9a1.2 1.2 0 1 0 2.4 0a1.2 1.2 0 1 0 -2.4 0zM777.3 455.8a1.2 1.2 0 1 0 2.4 0a1.2 1.2 0 1 0 -2.4 0zM785.0 467.0a1.2 1.2 0 1 0 2.4 0a1.2 1.2 0 1 0 -2.4 0zM783.4 467.7a1.2 1.2 0 1 0 2.4 0a1.2 1.2 0 1 0 -2.4 0zM779.7 457.5a1.2 1.2 0 1 0 2.4 0a1.2 1.2 0 1 0 -2.4 0zM782.7 466.6a1.2 1.2 0 1 0 2.4 0a1.2 1.2 0 1 0 -2.4 0zM784.5 464.6a1.2 1.2 0 1 0 2.4 0a1.2 1.2 0 1 0 -2.4 0zM780.1 460.7a1.2 1.2 0 1 0 2.4 0a1.2 1.2 0 1 0 -2.4 0zM781.0 461.4a1.2 1.2 0 1 0 2.4 0a1.2 1.2 0 1 0 -2.4 0zM779.8 465.0a1.2 1.2 0 1 0 2.4 0a1.2 1.2 0 1 0 -2.4 0zM777.3 454.4a1.2 1.2 0 1 0 2.4 0a1.2 1.2 0 1 0 -2.4 0zM784.5 464.3a1.2 1.2 0 1 0 2.4 0a1.2 1.2 0 1 0 -2.4 0zM780.4 455.2a1.2 1.2 0 1 0 2.4 0a1.2 1.2 0 1 0 -2.4 0zM781.0 464.0a1.2 1.2 0 1 0 2.4 0a1.2 1.2 0 1 0 -2.4 0zM779.3 461.7a1.2 1.2 0 1 0 2.4 0a1.2 1.2 0 1 0 -2.4 0zM782.2 463.3a1.2 1.2 0 1 0 2.4 0a1.2 1.2 0 1 0 -2.4 0zM781.8 462.5a1.2 1.2 0 1 0 2.4 0a1.2 1.2 0 1 0 -2.4 0zM780.6 464.3a1.2 1.2 0 1 0 2.4 0a1.2 1.2 0 1 0 -2.4 0zM781.4 460.2a1.2 1.2 0 1 0 2.4 0a1.2 1.2 0 1 0 -2.4 0zM784.7 460.3a1.2 1.2 0 1 0 2.4 0a1.2 1.2 0 1 0 -2.4 0zM779.8 461.1a1.2 1.2 0 1 0 2.4 0a1.2 1.2 0 1 0 -2.4 0zM782.0 464.8a1.2 1.2 0 1 0 2.4 0a1.2 1.2 0 1 0 -2.4 0zM778.4 452.4a1.2 1.2 0 1 0 2.4 0a1.2 1.2 0 1 0 -2.4 0zM777.9 454.0a1.2 1.2 0 1 0 2.4 0a1.2 1.2 0 1 0 -2.4 0zM783.9 468.0a1.2 1.2 0 1 0 2.4 0a1.2 1.2 0 1 0 -2.4 0zM782.5 468.5a1.2 1.2 0 1 0 2.4 0a1.2 1.2 0 1 0 -2.4 0zM780.0 456.5a1.2 1.2 0 1 0 2.4 0a1.2 1.2 0 1 0 -2.4 0z" fill="#ff0000"/>
<polyline points="786.4,470.0 786.4,495.6 789.3,501.5 793.7,513.2 798.0,527.8 802.5,545.4 806.9,560.0 811.2,574.7 815.6,589.3 821.5,602.5 828.8,613.5 834.7,617.5 835.3,620.0 835.3,635.5" fill="none" stroke="#ff0000" stroke-width="3.0" stroke-linejoin="round" stroke-linecap="round"/>
<polyline points="777.0,383.0 776.9,458.0" fill="none" stroke="#ff0000" stroke-width="3.4" stroke-linecap="round"/>
</svg>
</body></html>
